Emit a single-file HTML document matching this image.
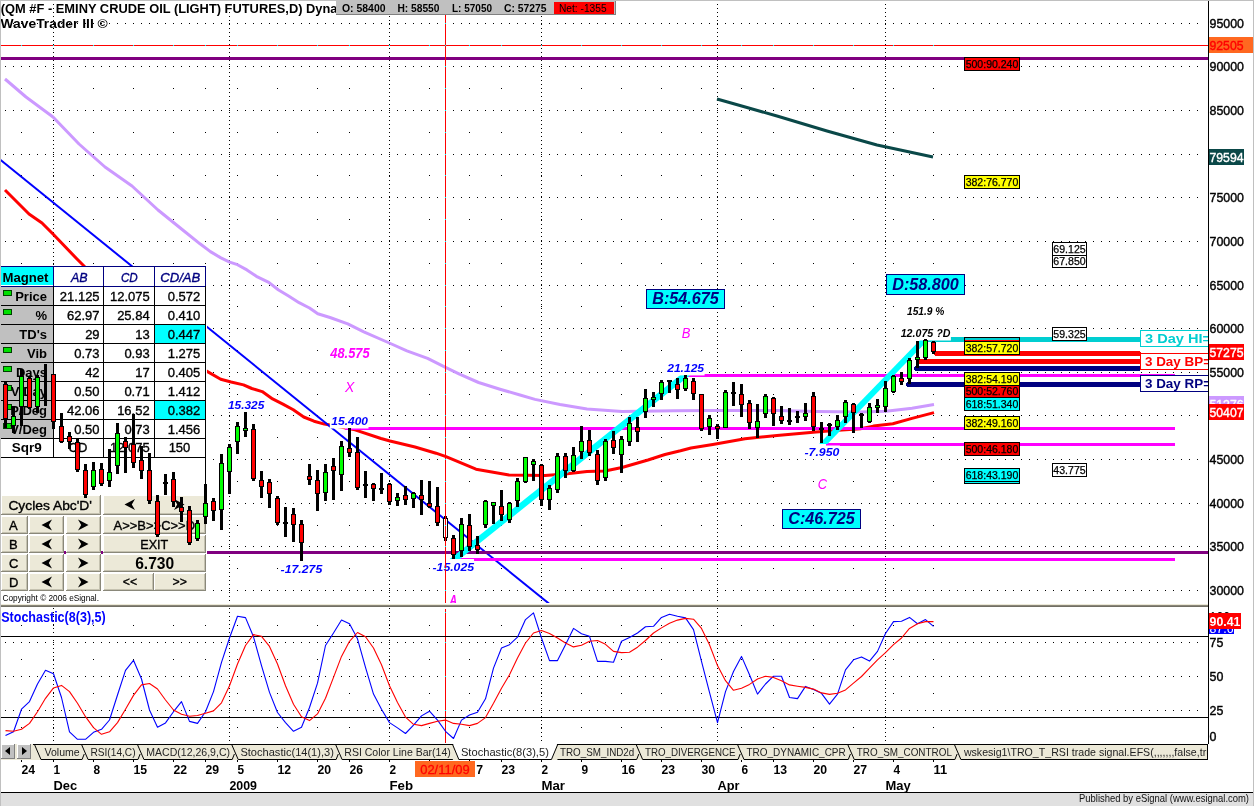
<!DOCTYPE html>
<html><head><meta charset="utf-8"><title>QM #F - EMINY CRUDE OIL (LIGHT) FUTURES, D</title>
<style>
html,body{margin:0;padding:0;background:#fff;}
svg{display:block;font-family:"Liberation Sans",Arial,sans-serif;}
</style></head><body>
<svg width="1254" height="806" viewBox="0 0 1254 806">
<rect x="0" y="0" width="1254" height="806" fill="#FFFFFF"/>
<g shape-rendering="crispEdges">
<line x1="5" x2="1200" y1="23.5" y2="23.5" stroke="#000" stroke-width="1" stroke-dasharray="1 7"/>
<line x1="5" x2="1200" y1="66.5" y2="66.5" stroke="#000" stroke-width="1" stroke-dasharray="1 7"/>
<line x1="5" x2="1200" y1="110.5" y2="110.5" stroke="#000" stroke-width="1" stroke-dasharray="1 7"/>
<line x1="5" x2="1200" y1="154.5" y2="154.5" stroke="#000" stroke-width="1" stroke-dasharray="1 7"/>
<line x1="5" x2="1200" y1="197.5" y2="197.5" stroke="#000" stroke-width="1" stroke-dasharray="1 7"/>
<line x1="5" x2="1200" y1="241.5" y2="241.5" stroke="#000" stroke-width="1" stroke-dasharray="1 7"/>
<line x1="5" x2="1200" y1="285.5" y2="285.5" stroke="#000" stroke-width="1" stroke-dasharray="1 7"/>
<line x1="5" x2="1200" y1="328.5" y2="328.5" stroke="#000" stroke-width="1" stroke-dasharray="1 7"/>
<line x1="5" x2="1200" y1="372.5" y2="372.5" stroke="#000" stroke-width="1" stroke-dasharray="1 7"/>
<line x1="5" x2="1200" y1="415.5" y2="415.5" stroke="#000" stroke-width="1" stroke-dasharray="1 7"/>
<line x1="5" x2="1200" y1="459.5" y2="459.5" stroke="#000" stroke-width="1" stroke-dasharray="1 7"/>
<line x1="5" x2="1200" y1="503.5" y2="503.5" stroke="#000" stroke-width="1" stroke-dasharray="1 7"/>
<line x1="5" x2="1200" y1="546.5" y2="546.5" stroke="#000" stroke-width="1" stroke-dasharray="1 7"/>
<line x1="5" x2="1200" y1="590.5" y2="590.5" stroke="#000" stroke-width="1" stroke-dasharray="1 7"/>
<rect x="21" y="45" width="1" height="1" fill="#000" />
<rect x="53" y="45" width="1" height="1" fill="#000" />
<rect x="93" y="45" width="1" height="1" fill="#000" />
<rect x="133" y="45" width="1" height="1" fill="#000" />
<rect x="173" y="45" width="1" height="1" fill="#000" />
<rect x="205" y="45" width="1" height="1" fill="#000" />
<rect x="237" y="45" width="1" height="1" fill="#000" />
<rect x="277" y="45" width="1" height="1" fill="#000" />
<rect x="317" y="45" width="1" height="1" fill="#000" />
<rect x="349" y="45" width="1" height="1" fill="#000" />
<rect x="389" y="45" width="1" height="1" fill="#000" />
<rect x="429" y="45" width="1" height="1" fill="#000" />
<rect x="469" y="45" width="1" height="1" fill="#000" />
<rect x="501" y="45" width="1" height="1" fill="#000" />
<rect x="541" y="45" width="1" height="1" fill="#000" />
<rect x="581" y="45" width="1" height="1" fill="#000" />
<rect x="621" y="45" width="1" height="1" fill="#000" />
<rect x="661" y="45" width="1" height="1" fill="#000" />
<rect x="701" y="45" width="1" height="1" fill="#000" />
<rect x="741" y="45" width="1" height="1" fill="#000" />
<rect x="773" y="45" width="1" height="1" fill="#000" />
<rect x="813" y="45" width="1" height="1" fill="#000" />
<rect x="853" y="45" width="1" height="1" fill="#000" />
<rect x="893" y="45" width="1" height="1" fill="#000" />
<rect x="933" y="45" width="1" height="1" fill="#000" />
<rect x="21" y="88" width="1" height="1" fill="#000" />
<rect x="53" y="88" width="1" height="1" fill="#000" />
<rect x="93" y="88" width="1" height="1" fill="#000" />
<rect x="133" y="88" width="1" height="1" fill="#000" />
<rect x="173" y="88" width="1" height="1" fill="#000" />
<rect x="205" y="88" width="1" height="1" fill="#000" />
<rect x="237" y="88" width="1" height="1" fill="#000" />
<rect x="277" y="88" width="1" height="1" fill="#000" />
<rect x="317" y="88" width="1" height="1" fill="#000" />
<rect x="349" y="88" width="1" height="1" fill="#000" />
<rect x="389" y="88" width="1" height="1" fill="#000" />
<rect x="429" y="88" width="1" height="1" fill="#000" />
<rect x="469" y="88" width="1" height="1" fill="#000" />
<rect x="501" y="88" width="1" height="1" fill="#000" />
<rect x="541" y="88" width="1" height="1" fill="#000" />
<rect x="581" y="88" width="1" height="1" fill="#000" />
<rect x="621" y="88" width="1" height="1" fill="#000" />
<rect x="661" y="88" width="1" height="1" fill="#000" />
<rect x="701" y="88" width="1" height="1" fill="#000" />
<rect x="741" y="88" width="1" height="1" fill="#000" />
<rect x="773" y="88" width="1" height="1" fill="#000" />
<rect x="813" y="88" width="1" height="1" fill="#000" />
<rect x="853" y="88" width="1" height="1" fill="#000" />
<rect x="893" y="88" width="1" height="1" fill="#000" />
<rect x="933" y="88" width="1" height="1" fill="#000" />
<rect x="21" y="132" width="1" height="1" fill="#000" />
<rect x="53" y="132" width="1" height="1" fill="#000" />
<rect x="93" y="132" width="1" height="1" fill="#000" />
<rect x="133" y="132" width="1" height="1" fill="#000" />
<rect x="173" y="132" width="1" height="1" fill="#000" />
<rect x="205" y="132" width="1" height="1" fill="#000" />
<rect x="237" y="132" width="1" height="1" fill="#000" />
<rect x="277" y="132" width="1" height="1" fill="#000" />
<rect x="317" y="132" width="1" height="1" fill="#000" />
<rect x="349" y="132" width="1" height="1" fill="#000" />
<rect x="389" y="132" width="1" height="1" fill="#000" />
<rect x="429" y="132" width="1" height="1" fill="#000" />
<rect x="469" y="132" width="1" height="1" fill="#000" />
<rect x="501" y="132" width="1" height="1" fill="#000" />
<rect x="541" y="132" width="1" height="1" fill="#000" />
<rect x="581" y="132" width="1" height="1" fill="#000" />
<rect x="621" y="132" width="1" height="1" fill="#000" />
<rect x="661" y="132" width="1" height="1" fill="#000" />
<rect x="701" y="132" width="1" height="1" fill="#000" />
<rect x="741" y="132" width="1" height="1" fill="#000" />
<rect x="773" y="132" width="1" height="1" fill="#000" />
<rect x="813" y="132" width="1" height="1" fill="#000" />
<rect x="853" y="132" width="1" height="1" fill="#000" />
<rect x="893" y="132" width="1" height="1" fill="#000" />
<rect x="933" y="132" width="1" height="1" fill="#000" />
<rect x="21" y="175" width="1" height="1" fill="#000" />
<rect x="53" y="175" width="1" height="1" fill="#000" />
<rect x="93" y="175" width="1" height="1" fill="#000" />
<rect x="133" y="175" width="1" height="1" fill="#000" />
<rect x="173" y="175" width="1" height="1" fill="#000" />
<rect x="205" y="175" width="1" height="1" fill="#000" />
<rect x="237" y="175" width="1" height="1" fill="#000" />
<rect x="277" y="175" width="1" height="1" fill="#000" />
<rect x="317" y="175" width="1" height="1" fill="#000" />
<rect x="349" y="175" width="1" height="1" fill="#000" />
<rect x="389" y="175" width="1" height="1" fill="#000" />
<rect x="429" y="175" width="1" height="1" fill="#000" />
<rect x="469" y="175" width="1" height="1" fill="#000" />
<rect x="501" y="175" width="1" height="1" fill="#000" />
<rect x="541" y="175" width="1" height="1" fill="#000" />
<rect x="581" y="175" width="1" height="1" fill="#000" />
<rect x="621" y="175" width="1" height="1" fill="#000" />
<rect x="661" y="175" width="1" height="1" fill="#000" />
<rect x="701" y="175" width="1" height="1" fill="#000" />
<rect x="741" y="175" width="1" height="1" fill="#000" />
<rect x="773" y="175" width="1" height="1" fill="#000" />
<rect x="813" y="175" width="1" height="1" fill="#000" />
<rect x="853" y="175" width="1" height="1" fill="#000" />
<rect x="893" y="175" width="1" height="1" fill="#000" />
<rect x="933" y="175" width="1" height="1" fill="#000" />
<rect x="21" y="219" width="1" height="1" fill="#000" />
<rect x="53" y="219" width="1" height="1" fill="#000" />
<rect x="93" y="219" width="1" height="1" fill="#000" />
<rect x="133" y="219" width="1" height="1" fill="#000" />
<rect x="173" y="219" width="1" height="1" fill="#000" />
<rect x="205" y="219" width="1" height="1" fill="#000" />
<rect x="237" y="219" width="1" height="1" fill="#000" />
<rect x="277" y="219" width="1" height="1" fill="#000" />
<rect x="317" y="219" width="1" height="1" fill="#000" />
<rect x="349" y="219" width="1" height="1" fill="#000" />
<rect x="389" y="219" width="1" height="1" fill="#000" />
<rect x="429" y="219" width="1" height="1" fill="#000" />
<rect x="469" y="219" width="1" height="1" fill="#000" />
<rect x="501" y="219" width="1" height="1" fill="#000" />
<rect x="541" y="219" width="1" height="1" fill="#000" />
<rect x="581" y="219" width="1" height="1" fill="#000" />
<rect x="621" y="219" width="1" height="1" fill="#000" />
<rect x="661" y="219" width="1" height="1" fill="#000" />
<rect x="701" y="219" width="1" height="1" fill="#000" />
<rect x="741" y="219" width="1" height="1" fill="#000" />
<rect x="773" y="219" width="1" height="1" fill="#000" />
<rect x="813" y="219" width="1" height="1" fill="#000" />
<rect x="853" y="219" width="1" height="1" fill="#000" />
<rect x="893" y="219" width="1" height="1" fill="#000" />
<rect x="933" y="219" width="1" height="1" fill="#000" />
<rect x="21" y="263" width="1" height="1" fill="#000" />
<rect x="53" y="263" width="1" height="1" fill="#000" />
<rect x="93" y="263" width="1" height="1" fill="#000" />
<rect x="133" y="263" width="1" height="1" fill="#000" />
<rect x="173" y="263" width="1" height="1" fill="#000" />
<rect x="205" y="263" width="1" height="1" fill="#000" />
<rect x="237" y="263" width="1" height="1" fill="#000" />
<rect x="277" y="263" width="1" height="1" fill="#000" />
<rect x="317" y="263" width="1" height="1" fill="#000" />
<rect x="349" y="263" width="1" height="1" fill="#000" />
<rect x="389" y="263" width="1" height="1" fill="#000" />
<rect x="429" y="263" width="1" height="1" fill="#000" />
<rect x="469" y="263" width="1" height="1" fill="#000" />
<rect x="501" y="263" width="1" height="1" fill="#000" />
<rect x="541" y="263" width="1" height="1" fill="#000" />
<rect x="581" y="263" width="1" height="1" fill="#000" />
<rect x="621" y="263" width="1" height="1" fill="#000" />
<rect x="661" y="263" width="1" height="1" fill="#000" />
<rect x="701" y="263" width="1" height="1" fill="#000" />
<rect x="741" y="263" width="1" height="1" fill="#000" />
<rect x="773" y="263" width="1" height="1" fill="#000" />
<rect x="813" y="263" width="1" height="1" fill="#000" />
<rect x="853" y="263" width="1" height="1" fill="#000" />
<rect x="893" y="263" width="1" height="1" fill="#000" />
<rect x="933" y="263" width="1" height="1" fill="#000" />
<rect x="21" y="306" width="1" height="1" fill="#000" />
<rect x="53" y="306" width="1" height="1" fill="#000" />
<rect x="93" y="306" width="1" height="1" fill="#000" />
<rect x="133" y="306" width="1" height="1" fill="#000" />
<rect x="173" y="306" width="1" height="1" fill="#000" />
<rect x="205" y="306" width="1" height="1" fill="#000" />
<rect x="237" y="306" width="1" height="1" fill="#000" />
<rect x="277" y="306" width="1" height="1" fill="#000" />
<rect x="317" y="306" width="1" height="1" fill="#000" />
<rect x="349" y="306" width="1" height="1" fill="#000" />
<rect x="389" y="306" width="1" height="1" fill="#000" />
<rect x="429" y="306" width="1" height="1" fill="#000" />
<rect x="469" y="306" width="1" height="1" fill="#000" />
<rect x="501" y="306" width="1" height="1" fill="#000" />
<rect x="541" y="306" width="1" height="1" fill="#000" />
<rect x="581" y="306" width="1" height="1" fill="#000" />
<rect x="621" y="306" width="1" height="1" fill="#000" />
<rect x="661" y="306" width="1" height="1" fill="#000" />
<rect x="701" y="306" width="1" height="1" fill="#000" />
<rect x="741" y="306" width="1" height="1" fill="#000" />
<rect x="773" y="306" width="1" height="1" fill="#000" />
<rect x="813" y="306" width="1" height="1" fill="#000" />
<rect x="853" y="306" width="1" height="1" fill="#000" />
<rect x="893" y="306" width="1" height="1" fill="#000" />
<rect x="933" y="306" width="1" height="1" fill="#000" />
<rect x="21" y="350" width="1" height="1" fill="#000" />
<rect x="53" y="350" width="1" height="1" fill="#000" />
<rect x="93" y="350" width="1" height="1" fill="#000" />
<rect x="133" y="350" width="1" height="1" fill="#000" />
<rect x="173" y="350" width="1" height="1" fill="#000" />
<rect x="205" y="350" width="1" height="1" fill="#000" />
<rect x="237" y="350" width="1" height="1" fill="#000" />
<rect x="277" y="350" width="1" height="1" fill="#000" />
<rect x="317" y="350" width="1" height="1" fill="#000" />
<rect x="349" y="350" width="1" height="1" fill="#000" />
<rect x="389" y="350" width="1" height="1" fill="#000" />
<rect x="429" y="350" width="1" height="1" fill="#000" />
<rect x="469" y="350" width="1" height="1" fill="#000" />
<rect x="501" y="350" width="1" height="1" fill="#000" />
<rect x="541" y="350" width="1" height="1" fill="#000" />
<rect x="581" y="350" width="1" height="1" fill="#000" />
<rect x="621" y="350" width="1" height="1" fill="#000" />
<rect x="661" y="350" width="1" height="1" fill="#000" />
<rect x="701" y="350" width="1" height="1" fill="#000" />
<rect x="741" y="350" width="1" height="1" fill="#000" />
<rect x="773" y="350" width="1" height="1" fill="#000" />
<rect x="813" y="350" width="1" height="1" fill="#000" />
<rect x="853" y="350" width="1" height="1" fill="#000" />
<rect x="893" y="350" width="1" height="1" fill="#000" />
<rect x="933" y="350" width="1" height="1" fill="#000" />
<rect x="21" y="394" width="1" height="1" fill="#000" />
<rect x="53" y="394" width="1" height="1" fill="#000" />
<rect x="93" y="394" width="1" height="1" fill="#000" />
<rect x="133" y="394" width="1" height="1" fill="#000" />
<rect x="173" y="394" width="1" height="1" fill="#000" />
<rect x="205" y="394" width="1" height="1" fill="#000" />
<rect x="237" y="394" width="1" height="1" fill="#000" />
<rect x="277" y="394" width="1" height="1" fill="#000" />
<rect x="317" y="394" width="1" height="1" fill="#000" />
<rect x="349" y="394" width="1" height="1" fill="#000" />
<rect x="389" y="394" width="1" height="1" fill="#000" />
<rect x="429" y="394" width="1" height="1" fill="#000" />
<rect x="469" y="394" width="1" height="1" fill="#000" />
<rect x="501" y="394" width="1" height="1" fill="#000" />
<rect x="541" y="394" width="1" height="1" fill="#000" />
<rect x="581" y="394" width="1" height="1" fill="#000" />
<rect x="621" y="394" width="1" height="1" fill="#000" />
<rect x="661" y="394" width="1" height="1" fill="#000" />
<rect x="701" y="394" width="1" height="1" fill="#000" />
<rect x="741" y="394" width="1" height="1" fill="#000" />
<rect x="773" y="394" width="1" height="1" fill="#000" />
<rect x="813" y="394" width="1" height="1" fill="#000" />
<rect x="853" y="394" width="1" height="1" fill="#000" />
<rect x="893" y="394" width="1" height="1" fill="#000" />
<rect x="933" y="394" width="1" height="1" fill="#000" />
<rect x="21" y="437" width="1" height="1" fill="#000" />
<rect x="53" y="437" width="1" height="1" fill="#000" />
<rect x="93" y="437" width="1" height="1" fill="#000" />
<rect x="133" y="437" width="1" height="1" fill="#000" />
<rect x="173" y="437" width="1" height="1" fill="#000" />
<rect x="205" y="437" width="1" height="1" fill="#000" />
<rect x="237" y="437" width="1" height="1" fill="#000" />
<rect x="277" y="437" width="1" height="1" fill="#000" />
<rect x="317" y="437" width="1" height="1" fill="#000" />
<rect x="349" y="437" width="1" height="1" fill="#000" />
<rect x="389" y="437" width="1" height="1" fill="#000" />
<rect x="429" y="437" width="1" height="1" fill="#000" />
<rect x="469" y="437" width="1" height="1" fill="#000" />
<rect x="501" y="437" width="1" height="1" fill="#000" />
<rect x="541" y="437" width="1" height="1" fill="#000" />
<rect x="581" y="437" width="1" height="1" fill="#000" />
<rect x="621" y="437" width="1" height="1" fill="#000" />
<rect x="661" y="437" width="1" height="1" fill="#000" />
<rect x="701" y="437" width="1" height="1" fill="#000" />
<rect x="741" y="437" width="1" height="1" fill="#000" />
<rect x="773" y="437" width="1" height="1" fill="#000" />
<rect x="813" y="437" width="1" height="1" fill="#000" />
<rect x="853" y="437" width="1" height="1" fill="#000" />
<rect x="893" y="437" width="1" height="1" fill="#000" />
<rect x="933" y="437" width="1" height="1" fill="#000" />
<rect x="21" y="481" width="1" height="1" fill="#000" />
<rect x="53" y="481" width="1" height="1" fill="#000" />
<rect x="93" y="481" width="1" height="1" fill="#000" />
<rect x="133" y="481" width="1" height="1" fill="#000" />
<rect x="173" y="481" width="1" height="1" fill="#000" />
<rect x="205" y="481" width="1" height="1" fill="#000" />
<rect x="237" y="481" width="1" height="1" fill="#000" />
<rect x="277" y="481" width="1" height="1" fill="#000" />
<rect x="317" y="481" width="1" height="1" fill="#000" />
<rect x="349" y="481" width="1" height="1" fill="#000" />
<rect x="389" y="481" width="1" height="1" fill="#000" />
<rect x="429" y="481" width="1" height="1" fill="#000" />
<rect x="469" y="481" width="1" height="1" fill="#000" />
<rect x="501" y="481" width="1" height="1" fill="#000" />
<rect x="541" y="481" width="1" height="1" fill="#000" />
<rect x="581" y="481" width="1" height="1" fill="#000" />
<rect x="621" y="481" width="1" height="1" fill="#000" />
<rect x="661" y="481" width="1" height="1" fill="#000" />
<rect x="701" y="481" width="1" height="1" fill="#000" />
<rect x="741" y="481" width="1" height="1" fill="#000" />
<rect x="773" y="481" width="1" height="1" fill="#000" />
<rect x="813" y="481" width="1" height="1" fill="#000" />
<rect x="853" y="481" width="1" height="1" fill="#000" />
<rect x="893" y="481" width="1" height="1" fill="#000" />
<rect x="933" y="481" width="1" height="1" fill="#000" />
<rect x="21" y="525" width="1" height="1" fill="#000" />
<rect x="53" y="525" width="1" height="1" fill="#000" />
<rect x="93" y="525" width="1" height="1" fill="#000" />
<rect x="133" y="525" width="1" height="1" fill="#000" />
<rect x="173" y="525" width="1" height="1" fill="#000" />
<rect x="205" y="525" width="1" height="1" fill="#000" />
<rect x="237" y="525" width="1" height="1" fill="#000" />
<rect x="277" y="525" width="1" height="1" fill="#000" />
<rect x="317" y="525" width="1" height="1" fill="#000" />
<rect x="349" y="525" width="1" height="1" fill="#000" />
<rect x="389" y="525" width="1" height="1" fill="#000" />
<rect x="429" y="525" width="1" height="1" fill="#000" />
<rect x="469" y="525" width="1" height="1" fill="#000" />
<rect x="501" y="525" width="1" height="1" fill="#000" />
<rect x="541" y="525" width="1" height="1" fill="#000" />
<rect x="581" y="525" width="1" height="1" fill="#000" />
<rect x="621" y="525" width="1" height="1" fill="#000" />
<rect x="661" y="525" width="1" height="1" fill="#000" />
<rect x="701" y="525" width="1" height="1" fill="#000" />
<rect x="741" y="525" width="1" height="1" fill="#000" />
<rect x="773" y="525" width="1" height="1" fill="#000" />
<rect x="813" y="525" width="1" height="1" fill="#000" />
<rect x="853" y="525" width="1" height="1" fill="#000" />
<rect x="893" y="525" width="1" height="1" fill="#000" />
<rect x="933" y="525" width="1" height="1" fill="#000" />
<rect x="21" y="568" width="1" height="1" fill="#000" />
<rect x="53" y="568" width="1" height="1" fill="#000" />
<rect x="93" y="568" width="1" height="1" fill="#000" />
<rect x="133" y="568" width="1" height="1" fill="#000" />
<rect x="173" y="568" width="1" height="1" fill="#000" />
<rect x="205" y="568" width="1" height="1" fill="#000" />
<rect x="237" y="568" width="1" height="1" fill="#000" />
<rect x="277" y="568" width="1" height="1" fill="#000" />
<rect x="317" y="568" width="1" height="1" fill="#000" />
<rect x="349" y="568" width="1" height="1" fill="#000" />
<rect x="389" y="568" width="1" height="1" fill="#000" />
<rect x="429" y="568" width="1" height="1" fill="#000" />
<rect x="469" y="568" width="1" height="1" fill="#000" />
<rect x="501" y="568" width="1" height="1" fill="#000" />
<rect x="541" y="568" width="1" height="1" fill="#000" />
<rect x="581" y="568" width="1" height="1" fill="#000" />
<rect x="621" y="568" width="1" height="1" fill="#000" />
<rect x="661" y="568" width="1" height="1" fill="#000" />
<rect x="701" y="568" width="1" height="1" fill="#000" />
<rect x="741" y="568" width="1" height="1" fill="#000" />
<rect x="773" y="568" width="1" height="1" fill="#000" />
<rect x="813" y="568" width="1" height="1" fill="#000" />
<rect x="853" y="568" width="1" height="1" fill="#000" />
<rect x="893" y="568" width="1" height="1" fill="#000" />
<rect x="933" y="568" width="1" height="1" fill="#000" />
<line x1="53.5" x2="53.5" y1="0" y2="603" stroke="#000" stroke-width="1" stroke-dasharray="1 3"/>
<line x1="53.5" x2="53.5" y1="608" y2="743" stroke="#000" stroke-width="1" stroke-dasharray="1 3"/>
<line x1="229.5" x2="229.5" y1="0" y2="603" stroke="#000" stroke-width="1" stroke-dasharray="1 3"/>
<line x1="229.5" x2="229.5" y1="608" y2="743" stroke="#000" stroke-width="1" stroke-dasharray="1 3"/>
<line x1="389.5" x2="389.5" y1="0" y2="603" stroke="#000" stroke-width="1" stroke-dasharray="1 3"/>
<line x1="389.5" x2="389.5" y1="608" y2="743" stroke="#000" stroke-width="1" stroke-dasharray="1 3"/>
<line x1="541.5" x2="541.5" y1="0" y2="603" stroke="#000" stroke-width="1" stroke-dasharray="1 3"/>
<line x1="541.5" x2="541.5" y1="608" y2="743" stroke="#000" stroke-width="1" stroke-dasharray="1 3"/>
<line x1="717.5" x2="717.5" y1="0" y2="603" stroke="#000" stroke-width="1" stroke-dasharray="1 3"/>
<line x1="717.5" x2="717.5" y1="608" y2="743" stroke="#000" stroke-width="1" stroke-dasharray="1 3"/>
<line x1="885.5" x2="885.5" y1="0" y2="603" stroke="#000" stroke-width="1" stroke-dasharray="1 3"/>
<line x1="885.5" x2="885.5" y1="608" y2="743" stroke="#000" stroke-width="1" stroke-dasharray="1 3"/>
<line x1="5" x2="1200" y1="642.5" y2="642.5" stroke="#000" stroke-width="1" stroke-dasharray="1 7"/>
<line x1="5" x2="1200" y1="676.5" y2="676.5" stroke="#000" stroke-width="1" stroke-dasharray="1 7"/>
<line x1="5" x2="1200" y1="710.5" y2="710.5" stroke="#000" stroke-width="1" stroke-dasharray="1 7"/>
<rect x="21" y="625" width="1" height="1" fill="#000" />
<rect x="53" y="625" width="1" height="1" fill="#000" />
<rect x="93" y="625" width="1" height="1" fill="#000" />
<rect x="133" y="625" width="1" height="1" fill="#000" />
<rect x="173" y="625" width="1" height="1" fill="#000" />
<rect x="205" y="625" width="1" height="1" fill="#000" />
<rect x="237" y="625" width="1" height="1" fill="#000" />
<rect x="277" y="625" width="1" height="1" fill="#000" />
<rect x="317" y="625" width="1" height="1" fill="#000" />
<rect x="349" y="625" width="1" height="1" fill="#000" />
<rect x="389" y="625" width="1" height="1" fill="#000" />
<rect x="429" y="625" width="1" height="1" fill="#000" />
<rect x="469" y="625" width="1" height="1" fill="#000" />
<rect x="501" y="625" width="1" height="1" fill="#000" />
<rect x="541" y="625" width="1" height="1" fill="#000" />
<rect x="581" y="625" width="1" height="1" fill="#000" />
<rect x="621" y="625" width="1" height="1" fill="#000" />
<rect x="661" y="625" width="1" height="1" fill="#000" />
<rect x="701" y="625" width="1" height="1" fill="#000" />
<rect x="741" y="625" width="1" height="1" fill="#000" />
<rect x="773" y="625" width="1" height="1" fill="#000" />
<rect x="813" y="625" width="1" height="1" fill="#000" />
<rect x="853" y="625" width="1" height="1" fill="#000" />
<rect x="893" y="625" width="1" height="1" fill="#000" />
<rect x="933" y="625" width="1" height="1" fill="#000" />
<rect x="21" y="659" width="1" height="1" fill="#000" />
<rect x="53" y="659" width="1" height="1" fill="#000" />
<rect x="93" y="659" width="1" height="1" fill="#000" />
<rect x="133" y="659" width="1" height="1" fill="#000" />
<rect x="173" y="659" width="1" height="1" fill="#000" />
<rect x="205" y="659" width="1" height="1" fill="#000" />
<rect x="237" y="659" width="1" height="1" fill="#000" />
<rect x="277" y="659" width="1" height="1" fill="#000" />
<rect x="317" y="659" width="1" height="1" fill="#000" />
<rect x="349" y="659" width="1" height="1" fill="#000" />
<rect x="389" y="659" width="1" height="1" fill="#000" />
<rect x="429" y="659" width="1" height="1" fill="#000" />
<rect x="469" y="659" width="1" height="1" fill="#000" />
<rect x="501" y="659" width="1" height="1" fill="#000" />
<rect x="541" y="659" width="1" height="1" fill="#000" />
<rect x="581" y="659" width="1" height="1" fill="#000" />
<rect x="621" y="659" width="1" height="1" fill="#000" />
<rect x="661" y="659" width="1" height="1" fill="#000" />
<rect x="701" y="659" width="1" height="1" fill="#000" />
<rect x="741" y="659" width="1" height="1" fill="#000" />
<rect x="773" y="659" width="1" height="1" fill="#000" />
<rect x="813" y="659" width="1" height="1" fill="#000" />
<rect x="853" y="659" width="1" height="1" fill="#000" />
<rect x="893" y="659" width="1" height="1" fill="#000" />
<rect x="933" y="659" width="1" height="1" fill="#000" />
<rect x="21" y="693" width="1" height="1" fill="#000" />
<rect x="53" y="693" width="1" height="1" fill="#000" />
<rect x="93" y="693" width="1" height="1" fill="#000" />
<rect x="133" y="693" width="1" height="1" fill="#000" />
<rect x="173" y="693" width="1" height="1" fill="#000" />
<rect x="205" y="693" width="1" height="1" fill="#000" />
<rect x="237" y="693" width="1" height="1" fill="#000" />
<rect x="277" y="693" width="1" height="1" fill="#000" />
<rect x="317" y="693" width="1" height="1" fill="#000" />
<rect x="349" y="693" width="1" height="1" fill="#000" />
<rect x="389" y="693" width="1" height="1" fill="#000" />
<rect x="429" y="693" width="1" height="1" fill="#000" />
<rect x="469" y="693" width="1" height="1" fill="#000" />
<rect x="501" y="693" width="1" height="1" fill="#000" />
<rect x="541" y="693" width="1" height="1" fill="#000" />
<rect x="581" y="693" width="1" height="1" fill="#000" />
<rect x="621" y="693" width="1" height="1" fill="#000" />
<rect x="661" y="693" width="1" height="1" fill="#000" />
<rect x="701" y="693" width="1" height="1" fill="#000" />
<rect x="741" y="693" width="1" height="1" fill="#000" />
<rect x="773" y="693" width="1" height="1" fill="#000" />
<rect x="813" y="693" width="1" height="1" fill="#000" />
<rect x="853" y="693" width="1" height="1" fill="#000" />
<rect x="893" y="693" width="1" height="1" fill="#000" />
<rect x="933" y="693" width="1" height="1" fill="#000" />
<rect x="21" y="727" width="1" height="1" fill="#000" />
<rect x="53" y="727" width="1" height="1" fill="#000" />
<rect x="93" y="727" width="1" height="1" fill="#000" />
<rect x="133" y="727" width="1" height="1" fill="#000" />
<rect x="173" y="727" width="1" height="1" fill="#000" />
<rect x="205" y="727" width="1" height="1" fill="#000" />
<rect x="237" y="727" width="1" height="1" fill="#000" />
<rect x="277" y="727" width="1" height="1" fill="#000" />
<rect x="317" y="727" width="1" height="1" fill="#000" />
<rect x="349" y="727" width="1" height="1" fill="#000" />
<rect x="389" y="727" width="1" height="1" fill="#000" />
<rect x="429" y="727" width="1" height="1" fill="#000" />
<rect x="469" y="727" width="1" height="1" fill="#000" />
<rect x="501" y="727" width="1" height="1" fill="#000" />
<rect x="541" y="727" width="1" height="1" fill="#000" />
<rect x="581" y="727" width="1" height="1" fill="#000" />
<rect x="621" y="727" width="1" height="1" fill="#000" />
<rect x="661" y="727" width="1" height="1" fill="#000" />
<rect x="701" y="727" width="1" height="1" fill="#000" />
<rect x="741" y="727" width="1" height="1" fill="#000" />
<rect x="773" y="727" width="1" height="1" fill="#000" />
<rect x="813" y="727" width="1" height="1" fill="#000" />
<rect x="853" y="727" width="1" height="1" fill="#000" />
<rect x="893" y="727" width="1" height="1" fill="#000" />
<rect x="933" y="727" width="1" height="1" fill="#000" />
</g>
<polyline points="5.0,79.0 26.0,97.0 53.0,117.0 79.0,144.0 105.0,167.0 132.0,186.0 158.0,210.0 184.0,231.0 200.0,243.8 210.4,251.6 220.9,257.9 229.7,262.1 237.5,264.7 246.9,269.9 257.4,276.9 268.8,282.4 278.2,289.7 288.6,296.0 299.1,302.7 309.5,308.0 317.8,313.8 330.0,317.5 347.8,323.8 363.8,331.8 389.3,343.0 406.9,350.9 427.6,358.3 445.5,367.4 459.5,374.2 478.6,382.5 500.0,389.2 520.0,395.0 535.0,399.4 560.0,404.5 587.0,409.0 622.0,411.5 674.0,410.8 717.0,410.5 777.0,410.5 816.0,411.5 860.0,411.9 886.0,411.2 912.0,408.2 934.0,404.6" fill="none" stroke="#CC99FF" stroke-width="3" stroke-linejoin="round" />
<polyline points="5.0,190.0 29.0,214.0 42.0,223.0 53.0,234.0 76.0,258.0 84.0,266.0 110.0,290.0 150.0,325.0 205.0,370.0 206.2,370.9 220.7,379.2 231.1,382.0 243.5,384.9 251.8,388.5 262.2,391.6 272.6,398.9 282.9,404.1 293.3,409.8 303.7,417.0 314.0,421.2 324.4,424.1 330.0,425.1 355.0,429.8 381.0,438.5 390.0,441.0 415.0,447.0 436.0,453.2 446.0,456.7 476.0,469.2 509.0,475.1 545.0,475.6 565.0,474.0 587.0,471.5 605.0,471.0 622.0,467.5 648.0,460.0 665.0,454.5 680.5,450.8 691.0,448.0 712.8,444.4 745.0,438.7 777.0,435.5 816.0,431.9 834.7,430.6 860.5,428.7 873.4,426.1 892.8,423.8 912.0,418.4 934.0,412.6" fill="none" stroke="#FF0000" stroke-width="3" stroke-linejoin="round" />
<clipPath id="cm"><rect x="0" y="0" width="1208" height="603"/></clipPath>
<line x1="0" y1="159.5" x2="560" y2="612.5" stroke="#0000FF" stroke-width="2" clip-path="url(#cm)"/>
<polyline points="717.0,99.0 747.0,107.5 777.0,116.0 827.0,131.0 877.0,145.0 933.0,157.0" fill="none" stroke="#0A4848" stroke-width="3" stroke-linejoin="round" />
<g shape-rendering="crispEdges">
<rect x="0" y="45" width="1208" height="1" fill="#FF0000" />
<rect x="21" y="45" width="1" height="1" fill="#00FFFF" />
<rect x="53" y="45" width="1" height="1" fill="#00FFFF" />
<rect x="93" y="45" width="1" height="1" fill="#00FFFF" />
<rect x="133" y="45" width="1" height="1" fill="#00FFFF" />
<rect x="173" y="45" width="1" height="1" fill="#00FFFF" />
<rect x="205" y="45" width="1" height="1" fill="#00FFFF" />
<rect x="237" y="45" width="1" height="1" fill="#00FFFF" />
<rect x="277" y="45" width="1" height="1" fill="#00FFFF" />
<rect x="317" y="45" width="1" height="1" fill="#00FFFF" />
<rect x="349" y="45" width="1" height="1" fill="#00FFFF" />
<rect x="389" y="45" width="1" height="1" fill="#00FFFF" />
<rect x="429" y="45" width="1" height="1" fill="#00FFFF" />
<rect x="469" y="45" width="1" height="1" fill="#00FFFF" />
<rect x="501" y="45" width="1" height="1" fill="#00FFFF" />
<rect x="541" y="45" width="1" height="1" fill="#00FFFF" />
<rect x="581" y="45" width="1" height="1" fill="#00FFFF" />
<rect x="621" y="45" width="1" height="1" fill="#00FFFF" />
<rect x="661" y="45" width="1" height="1" fill="#00FFFF" />
<rect x="701" y="45" width="1" height="1" fill="#00FFFF" />
<rect x="741" y="45" width="1" height="1" fill="#00FFFF" />
<rect x="773" y="45" width="1" height="1" fill="#00FFFF" />
<rect x="813" y="45" width="1" height="1" fill="#00FFFF" />
<rect x="853" y="45" width="1" height="1" fill="#00FFFF" />
<rect x="893" y="45" width="1" height="1" fill="#00FFFF" />
<rect x="933" y="45" width="1" height="1" fill="#00FFFF" />
<rect x="0" y="57" width="1208" height="3" fill="#800080" />
<rect x="0" y="551" width="1208" height="3" fill="#800080" />
<rect x="345" y="427" width="830" height="3" fill="#FF00FF" />
<rect x="688" y="374" width="487" height="3" fill="#FF00FF" />
<rect x="826" y="443" width="349" height="3" fill="#FF00FF" />
<rect x="459" y="558" width="716" height="3" fill="#FF00FF" />
</g>
<polygon points="449.8,559 460,559 690.5,375 680.3,375" fill="#00FFFF"/>
<polygon points="819.2,444 827.4,444 929.7,338.5 921.5,338.5" fill="#00FFFF"/>
<g shape-rendering="crispEdges">
<rect x="926" y="337" width="215" height="5" fill="#00CED1" />
<rect x="934" y="351" width="207" height="5" fill="#FF0000" rx="2.5"/>
<rect x="917" y="359" width="224" height="5" fill="#FF0000" rx="2.5"/>
<rect x="914" y="366" width="227" height="5" fill="#000080" rx="2.5"/>
<rect x="906" y="382" width="235" height="5" fill="#000080" rx="2.5"/>
</g>
<g shape-rendering="crispEdges">
<rect x="964.5" y="57.5" width="55" height="13" fill="#FF0000" stroke="#000" stroke-width="1" />
</g>
<text x="992.0" y="68" font-size="11" fill="#000" text-anchor="middle" textLength="52.7" lengthAdjust="spacingAndGlyphs" stroke="#000" stroke-width="0.25" >500:90.240</text>
<g shape-rendering="crispEdges">
<rect x="964.5" y="175.5" width="55" height="13" fill="#FFFF00" stroke="#000" stroke-width="1" />
</g>
<text x="992.0" y="186" font-size="11" fill="#000" text-anchor="middle" textLength="52.7" lengthAdjust="spacingAndGlyphs" stroke="#000" stroke-width="0.25" >382:76.770</text>
<g shape-rendering="crispEdges">
<rect x="964.5" y="337.5" width="55" height="17" fill="#FFFF00" stroke="#000" stroke-width="1" />
</g>
<text x="992.0" y="352" font-size="11" fill="#000" text-anchor="middle" textLength="52.7" lengthAdjust="spacingAndGlyphs" stroke="#000" stroke-width="0.25" >382:57.720</text>
<g shape-rendering="crispEdges">
<rect x="965" y="338" width="54" height="2" fill="#00CED1" />
<rect x="965" y="340" width="54" height="1" fill="#FF0000" />
<rect x="965" y="341" width="54" height="1" fill="#000" />
</g>
<g shape-rendering="crispEdges">
<rect x="964.5" y="372.5" width="55" height="13" fill="#FFFF00" stroke="#000" stroke-width="1" />
</g>
<text x="992.0" y="383" font-size="11" fill="#000" text-anchor="middle" textLength="52.7" lengthAdjust="spacingAndGlyphs" stroke="#000" stroke-width="0.25" >382:54.190</text>
<g shape-rendering="crispEdges">
<rect x="964.5" y="385.5" width="55" height="12" fill="#FF0000" stroke="#000" stroke-width="1" />
</g>
<text x="992.0" y="395" font-size="11" fill="#000" text-anchor="middle" textLength="52.7" lengthAdjust="spacingAndGlyphs" stroke="#000" stroke-width="0.25" >500:52.760</text>
<g shape-rendering="crispEdges">
<rect x="964.5" y="397.5" width="55" height="13" fill="#00FFFF" stroke="#000" stroke-width="1" />
</g>
<text x="992.0" y="408" font-size="11" fill="#000" text-anchor="middle" textLength="52.7" lengthAdjust="spacingAndGlyphs" stroke="#000" stroke-width="0.25" >618:51.340</text>
<g shape-rendering="crispEdges">
<rect x="964.5" y="416.5" width="55" height="13" fill="#FFFF00" stroke="#000" stroke-width="1" />
</g>
<text x="992.0" y="427" font-size="11" fill="#000" text-anchor="middle" textLength="52.7" lengthAdjust="spacingAndGlyphs" stroke="#000" stroke-width="0.25" >382:49.160</text>
<g shape-rendering="crispEdges">
<rect x="964.5" y="442.5" width="55" height="13" fill="#FF0000" stroke="#000" stroke-width="1" />
</g>
<text x="992.0" y="453" font-size="11" fill="#000" text-anchor="middle" textLength="52.7" lengthAdjust="spacingAndGlyphs" stroke="#000" stroke-width="0.25" >500:46.180</text>
<g shape-rendering="crispEdges">
<rect x="964.5" y="468.5" width="55" height="15" fill="#00FFFF" stroke="#000" stroke-width="1" />
</g>
<text x="992.0" y="479" font-size="11" fill="#000" text-anchor="middle" textLength="52.7" lengthAdjust="spacingAndGlyphs" stroke="#000" stroke-width="0.25" >618:43.190</text>
<g shape-rendering="crispEdges">
<rect x="964" y="481" width="56" height="1" fill="#000" />
</g>
<g shape-rendering="crispEdges">
<rect x="1052.5" y="242.5" width="34" height="13" fill="#FFF" stroke="#000" stroke-width="1" />
</g>
<text x="1069.5" y="253" font-size="11" fill="#000" text-anchor="middle" textLength="32.3" lengthAdjust="spacingAndGlyphs" stroke="#000" stroke-width="0.25" >69.125</text>
<g shape-rendering="crispEdges">
<rect x="1052.5" y="255.5" width="34" height="12" fill="#FFF" stroke="#000" stroke-width="1" />
</g>
<text x="1069.5" y="265" font-size="11" fill="#000" text-anchor="middle" textLength="32.3" lengthAdjust="spacingAndGlyphs" stroke="#000" stroke-width="0.25" >67.850</text>
<g shape-rendering="crispEdges">
<rect x="1052.5" y="327.5" width="34" height="13" fill="#FFF" stroke="#000" stroke-width="1" />
</g>
<text x="1069.5" y="338" font-size="11" fill="#000" text-anchor="middle" textLength="32.3" lengthAdjust="spacingAndGlyphs" stroke="#000" stroke-width="0.25" >59.325</text>
<g shape-rendering="crispEdges">
<rect x="1052.5" y="463.5" width="34" height="13" fill="#FFF" stroke="#000" stroke-width="1" />
</g>
<text x="1069.5" y="474" font-size="11" fill="#000" text-anchor="middle" textLength="32.3" lengthAdjust="spacingAndGlyphs" stroke="#000" stroke-width="0.25" >43.775</text>
<g shape-rendering="crispEdges">
<rect x="646.5" y="289.5" width="78" height="19" fill="#00FFFF" stroke="#000080" stroke-width="1" />
</g>
<text x="685.5" y="304" font-size="16" fill="#000080" font-weight="bold" font-style="italic" text-anchor="middle" textLength="66.5" lengthAdjust="spacingAndGlyphs" >B:54.675</text>
<g shape-rendering="crispEdges">
<rect x="782.5" y="509.5" width="78" height="19" fill="#00FFFF" stroke="#000080" stroke-width="1" />
</g>
<text x="821.5" y="524" font-size="16" fill="#000080" font-weight="bold" font-style="italic" text-anchor="middle" textLength="66.5" lengthAdjust="spacingAndGlyphs" >C:46.725</text>
<g shape-rendering="crispEdges">
<rect x="886.5" y="274.5" width="78" height="20" fill="#00FFFF" stroke="#000080" stroke-width="1" />
</g>
<text x="925.5" y="290" font-size="16" fill="#000080" font-weight="bold" font-style="italic" text-anchor="middle" textLength="66.5" lengthAdjust="spacingAndGlyphs" >D:58.800</text>
<g shape-rendering="crispEdges">
<rect x="1140.5" y="330.5" width="68" height="16" fill="#FFF" stroke="#00CED1" stroke-width="1" />
</g>
<clipPath id="c330"><rect x="1141" y="330" width="67" height="17"/></clipPath>
<text x="1145" y="343" font-size="13.5" fill="#00CED1" font-weight="bold" textLength="66" lengthAdjust="spacingAndGlyphs" clip-path="url(#c330)">3 Day HI=</text>
<g shape-rendering="crispEdges">
<rect x="1140.5" y="353.5" width="68" height="16" fill="#FFF" stroke="#FF0000" stroke-width="1" />
</g>
<clipPath id="c353"><rect x="1141" y="353" width="67" height="17"/></clipPath>
<text x="1145" y="366" font-size="13.5" fill="#FF0000" font-weight="bold" textLength="66" lengthAdjust="spacingAndGlyphs" clip-path="url(#c353)">3 Day BP=</text>
<g shape-rendering="crispEdges">
<rect x="1140.5" y="375.5" width="68" height="16" fill="#FFF" stroke="#000080" stroke-width="1" />
</g>
<clipPath id="c375"><rect x="1141" y="375" width="67" height="17"/></clipPath>
<text x="1145" y="388" font-size="13.5" fill="#000080" font-weight="bold" textLength="66" lengthAdjust="spacingAndGlyphs" clip-path="url(#c375)">3 Day RP=</text>
<rect x="226.5" y="398.5" width="38.30000000000001" height="13.7" fill="#FFF" />
<text x="228" y="408.5" font-size="11.8" fill="#0000FF" font-weight="bold" font-style="italic" textLength="36.3" lengthAdjust="spacingAndGlyphs" >15.325</text>
<rect x="329.8" y="414.8" width="38.69999999999999" height="13.7" fill="#FFF" />
<text x="331.3" y="424.8" font-size="11.8" fill="#0000FF" font-weight="bold" font-style="italic" textLength="36.7" lengthAdjust="spacingAndGlyphs" >15.400</text>
<rect x="279.1" y="563.2" width="43.69999999999999" height="13.7" fill="#FFF" />
<text x="280.6" y="573.2" font-size="11.8" fill="#0000FF" font-weight="bold" font-style="italic" textLength="41.7" lengthAdjust="spacingAndGlyphs" >-17.275</text>
<rect x="431" y="559" width="43" height="14" fill="#FFF" />
<text x="432.5" y="571" font-size="11.8" fill="#0000FF" font-weight="bold" font-style="italic" textLength="41.5" lengthAdjust="spacingAndGlyphs" >-15.025</text>
<rect x="665.7" y="361.7" width="38.89999999999998" height="13.7" fill="#FFF" />
<text x="667.2" y="371.7" font-size="11.8" fill="#0000FF" font-weight="bold" font-style="italic" textLength="36.9" lengthAdjust="spacingAndGlyphs" >21.125</text>
<rect x="803.0" y="445.5" width="36.89999999999998" height="13.7" fill="#FFF" />
<text x="804.5" y="455.5" font-size="11.8" fill="#0000FF" font-weight="bold" font-style="italic" textLength="34.9" lengthAdjust="spacingAndGlyphs" >-7.950</text>
<rect x="329.5" y="346" width="41" height="15" fill="#FFF" />
<text x="330.3" y="357.9" font-size="14" fill="#FF00FF" font-weight="bold" font-style="italic" textLength="39.3" lengthAdjust="spacingAndGlyphs" >48.575</text>
<rect x="344" y="380" width="12" height="15" fill="#FFF" />
<text x="344.9" y="392" font-size="14" fill="#FF00FF" font-style="italic" textLength="9.3" lengthAdjust="spacingAndGlyphs" >X</text>
<rect x="681" y="326" width="11" height="15" fill="#FFF" />
<text x="681.7" y="337.6" font-size="14" fill="#FF00FF" font-style="italic" textLength="8.7" lengthAdjust="spacingAndGlyphs" >B</text>
<rect x="817" y="477.5" width="11" height="15" fill="#FFF" />
<text x="817.7" y="489.2" font-size="14" fill="#FF00FF" font-style="italic" textLength="9.3" lengthAdjust="spacingAndGlyphs" >C</text>
<g clip-path="url(#cm)">
<text x="449.4" y="604.6" font-size="14" fill="#FF00FF" font-weight="bold" font-style="italic" textLength="7.6" lengthAdjust="spacingAndGlyphs" >A</text>
</g>
<rect x="905.5" y="304.6" width="39.39999999999998" height="13.7" fill="#FFF" />
<text x="907" y="314.6" font-size="11" fill="#000" font-weight="bold" font-style="italic" textLength="37.4" lengthAdjust="spacingAndGlyphs" >151.9 %</text>
<rect x="899.2" y="326.8" width="51.69999999999993" height="13.7" fill="#FFF" />
<text x="900.7" y="336.8" font-size="11" fill="#000" font-weight="bold" font-style="italic" textLength="49.7" lengthAdjust="spacingAndGlyphs" >12.075 ?D</text>
<rect x="0" y="266" width="207" height="337" fill="#FFF" />
<g shape-rendering="crispEdges">
<rect x="64" y="551" width="2" height="3" fill="#800080" />
<rect x="101" y="551" width="2" height="3" fill="#800080" />
</g>
<g shape-rendering="crispEdges">
<rect x="1" y="266" width="52" height="19" fill="#00FFFF" />
<rect x="1" y="286" width="52" height="152" fill="#C0C0C0" />
<rect x="154" y="324" width="51" height="19" fill="#00FFFF" />
<rect x="154" y="400" width="51" height="19" fill="#00FFFF" />
<rect x="0" y="266" width="206" height="1" fill="#000080" />
<rect x="0" y="286" width="206" height="1" fill="#000080" />
<rect x="0" y="305" width="206" height="1" fill="#000" />
<rect x="0" y="324" width="206" height="1" fill="#000" />
<rect x="0" y="343" width="206" height="1" fill="#000" />
<rect x="0" y="362" width="206" height="1" fill="#000" />
<rect x="0" y="381" width="206" height="1" fill="#000" />
<rect x="0" y="400" width="206" height="1" fill="#000" />
<rect x="0" y="419" width="206" height="1" fill="#000" />
<rect x="0" y="438" width="206" height="1" fill="#000" />
<rect x="0" y="457" width="206" height="1" fill="#000" />
<rect x="0" y="266" width="1" height="20" fill="#000080" />
<rect x="0" y="286" width="1" height="172" fill="#000" />
<rect x="53" y="266" width="1" height="20" fill="#000080" />
<rect x="53" y="286" width="1" height="172" fill="#000" />
<rect x="103" y="266" width="1" height="20" fill="#000080" />
<rect x="103" y="286" width="1" height="172" fill="#000" />
<rect x="154" y="266" width="1" height="20" fill="#000080" />
<rect x="154" y="286" width="1" height="172" fill="#000" />
<rect x="205" y="266" width="1" height="20" fill="#000080" />
<rect x="205" y="286" width="1" height="172" fill="#000" />
<rect x="3.5" y="290.5" width="8" height="5" fill="#00E000" stroke="#004000" stroke-width="1" />
<rect x="3.5" y="309.5" width="8" height="5" fill="#00E000" stroke="#004000" stroke-width="1" />
<rect x="3.5" y="347.5" width="8" height="5" fill="#00E000" stroke="#004000" stroke-width="1" />
<rect x="3.5" y="366.5" width="8" height="5" fill="#00E000" stroke="#004000" stroke-width="1" />
<rect x="3.5" y="385.5" width="8" height="5" fill="#00E000" stroke="#004000" stroke-width="1" />
<rect x="3.5" y="404.5" width="8" height="5" fill="#00E000" stroke="#004000" stroke-width="1" />
<rect x="3.5" y="423.5" width="8" height="5" fill="#00E000" stroke="#004000" stroke-width="1" />
</g>
<text x="2.5" y="282" font-size="13" fill="#000" font-weight="bold" textLength="46" lengthAdjust="spacingAndGlyphs" >Magnet</text>
<text x="70.9" y="282" font-size="13" fill="#000080" font-style="italic" textLength="16.7" lengthAdjust="spacingAndGlyphs" stroke="#000080" stroke-width="0.35" >AB</text>
<text x="120.9" y="282" font-size="13" fill="#000080" font-style="italic" textLength="16.8" lengthAdjust="spacingAndGlyphs" stroke="#000080" stroke-width="0.35" >CD</text>
<text x="160.2" y="282" font-size="13" fill="#000080" font-style="italic" textLength="40.1" lengthAdjust="spacingAndGlyphs" stroke="#000080" stroke-width="0.35" >CD/AB</text>
<text x="47" y="301" font-size="13" fill="#000" font-weight="bold" text-anchor="end" >Price</text>
<text x="99.6" y="301" font-size="13" fill="#000" text-anchor="end" stroke="#000" stroke-width="0.35" >21.125</text>
<text x="149.7" y="301" font-size="13" fill="#000" text-anchor="end" stroke="#000" stroke-width="0.35" >12.075</text>
<text x="200.3" y="301" font-size="13" fill="#000" text-anchor="end" stroke="#000" stroke-width="0.35" >0.572</text>
<text x="47" y="320" font-size="13" fill="#000" font-weight="bold" text-anchor="end" >%</text>
<text x="99.6" y="320" font-size="13" fill="#000" text-anchor="end" stroke="#000" stroke-width="0.35" >62.97</text>
<text x="149.7" y="320" font-size="13" fill="#000" text-anchor="end" stroke="#000" stroke-width="0.35" >25.84</text>
<text x="200.3" y="320" font-size="13" fill="#000" text-anchor="end" stroke="#000" stroke-width="0.35" >0.410</text>
<text x="47" y="339" font-size="13" fill="#000" font-weight="bold" text-anchor="end" >TD's</text>
<text x="99.6" y="339" font-size="13" fill="#000" text-anchor="end" stroke="#000" stroke-width="0.35" >29</text>
<text x="149.7" y="339" font-size="13" fill="#000" text-anchor="end" stroke="#000" stroke-width="0.35" >13</text>
<text x="200.3" y="339" font-size="13" fill="#000" text-anchor="end" stroke="#000" stroke-width="0.35" >0.447</text>
<text x="47" y="358" font-size="13" fill="#000" font-weight="bold" text-anchor="end" >Vib</text>
<text x="99.6" y="358" font-size="13" fill="#000" text-anchor="end" stroke="#000" stroke-width="0.35" >0.73</text>
<text x="149.7" y="358" font-size="13" fill="#000" text-anchor="end" stroke="#000" stroke-width="0.35" >0.93</text>
<text x="200.3" y="358" font-size="13" fill="#000" text-anchor="end" stroke="#000" stroke-width="0.35" >1.275</text>
<text x="47" y="377" font-size="13" fill="#000" font-weight="bold" text-anchor="end" >Days</text>
<text x="99.6" y="377" font-size="13" fill="#000" text-anchor="end" stroke="#000" stroke-width="0.35" >42</text>
<text x="149.7" y="377" font-size="13" fill="#000" text-anchor="end" stroke="#000" stroke-width="0.35" >17</text>
<text x="200.3" y="377" font-size="13" fill="#000" text-anchor="end" stroke="#000" stroke-width="0.35" >0.405</text>
<text x="47" y="396" font-size="13" fill="#000" font-weight="bold" text-anchor="end" >V/Day</text>
<text x="99.6" y="396" font-size="13" fill="#000" text-anchor="end" stroke="#000" stroke-width="0.35" >0.50</text>
<text x="149.7" y="396" font-size="13" fill="#000" text-anchor="end" stroke="#000" stroke-width="0.35" >0.71</text>
<text x="200.3" y="396" font-size="13" fill="#000" text-anchor="end" stroke="#000" stroke-width="0.35" >1.412</text>
<text x="47" y="415" font-size="13" fill="#000" font-weight="bold" text-anchor="end" >P/Deg</text>
<text x="99.6" y="415" font-size="13" fill="#000" text-anchor="end" stroke="#000" stroke-width="0.35" >42.06</text>
<text x="149.7" y="415" font-size="13" fill="#000" text-anchor="end" stroke="#000" stroke-width="0.35" >16.52</text>
<text x="200.3" y="415" font-size="13" fill="#000" text-anchor="end" stroke="#000" stroke-width="0.35" >0.382</text>
<text x="47" y="434" font-size="13" fill="#000" font-weight="bold" text-anchor="end" >V/Deg</text>
<text x="99.6" y="434" font-size="13" fill="#000" text-anchor="end" stroke="#000" stroke-width="0.35" >0.50</text>
<text x="149.7" y="434" font-size="13" fill="#000" text-anchor="end" stroke="#000" stroke-width="0.35" >0.73</text>
<text x="200.3" y="434" font-size="13" fill="#000" text-anchor="end" stroke="#000" stroke-width="0.35" >1.456</text>
<text x="26.7" y="452" font-size="13" fill="#000" font-weight="bold" text-anchor="middle" textLength="30" lengthAdjust="spacingAndGlyphs" >Sqr9</text>
<text x="78" y="452" font-size="13" fill="#000" text-anchor="middle" stroke="#000" stroke-width="0.35" >CD</text>
<text x="149.7" y="452" font-size="13" fill="#000" text-anchor="end" stroke="#000" stroke-width="0.35" >12.075</text>
<text x="179.5" y="452" font-size="13" fill="#000" text-anchor="middle" stroke="#000" stroke-width="0.35" >150</text>
<g shape-rendering="crispEdges">
<rect x="205" y="457" width="1" height="39" fill="#000" />
</g>
<g shape-rendering="crispEdges">
<rect x="1" y="495" width="100" height="20" fill="#ECE9D8" />
<rect x="1" y="495" width="100" height="1" fill="#FFF" />
<rect x="1" y="495" width="1" height="20" fill="#FFF" />
<rect x="1" y="514" width="100" height="1" fill="#8A887A" />
<rect x="100" y="495" width="1" height="20" fill="#8A887A" />
<rect x="2" y="513" width="98" height="1" fill="#C5C2B0" />
<rect x="99" y="496" width="1" height="18" fill="#C5C2B0" />
</g>
<text x="8.4" y="510" font-size="13" fill="#000" textLength="83.6" lengthAdjust="spacingAndGlyphs" stroke="#000" stroke-width="0.35" >Cycles Abc'D'</text>
<g shape-rendering="crispEdges">
<rect x="103" y="495" width="103" height="20" fill="#ECE9D8" />
<rect x="103" y="495" width="103" height="1" fill="#FFF" />
<rect x="103" y="495" width="1" height="20" fill="#FFF" />
<rect x="103" y="514" width="103" height="1" fill="#8A887A" />
<rect x="205" y="495" width="1" height="20" fill="#8A887A" />
<rect x="104" y="513" width="101" height="1" fill="#C5C2B0" />
<rect x="204" y="496" width="1" height="18" fill="#C5C2B0" />
</g>
<polygon points="135,499.0 124.5,504.5 135,510.0 131.8,504.5" fill="#000"/>
<polygon points="174,499.0 184.5,504.5 174,510.0 177.2,504.5" fill="#000"/>
<g shape-rendering="crispEdges">
<rect x="1" y="516" width="27" height="18" fill="#ECE9D8" />
<rect x="1" y="516" width="27" height="1" fill="#FFF" />
<rect x="1" y="516" width="1" height="18" fill="#FFF" />
<rect x="1" y="533" width="27" height="1" fill="#8A887A" />
<rect x="27" y="516" width="1" height="18" fill="#8A887A" />
<rect x="2" y="532" width="25" height="1" fill="#C5C2B0" />
<rect x="26" y="517" width="1" height="16" fill="#C5C2B0" />
</g>
<text x="9" y="530" font-size="13" fill="#000" stroke="#000" stroke-width="0.35" >A</text>
<g shape-rendering="crispEdges">
<rect x="29" y="516" width="35" height="18" fill="#ECE9D8" />
<rect x="29" y="516" width="35" height="1" fill="#FFF" />
<rect x="29" y="516" width="1" height="18" fill="#FFF" />
<rect x="29" y="533" width="35" height="1" fill="#8A887A" />
<rect x="63" y="516" width="1" height="18" fill="#8A887A" />
<rect x="30" y="532" width="33" height="1" fill="#C5C2B0" />
<rect x="62" y="517" width="1" height="16" fill="#C5C2B0" />
</g>
<polygon points="52,519.5 41.5,525.0 52,530.5 48.8,525.0" fill="#000"/>
<g shape-rendering="crispEdges">
<rect x="66" y="516" width="35" height="18" fill="#ECE9D8" />
<rect x="66" y="516" width="35" height="1" fill="#FFF" />
<rect x="66" y="516" width="1" height="18" fill="#FFF" />
<rect x="66" y="533" width="35" height="1" fill="#8A887A" />
<rect x="100" y="516" width="1" height="18" fill="#8A887A" />
<rect x="67" y="532" width="33" height="1" fill="#C5C2B0" />
<rect x="99" y="517" width="1" height="16" fill="#C5C2B0" />
</g>
<polygon points="78,519.5 88.5,525.0 78,530.5 81.2,525.0" fill="#000"/>
<g shape-rendering="crispEdges">
<rect x="1" y="535" width="27" height="18" fill="#ECE9D8" />
<rect x="1" y="535" width="27" height="1" fill="#FFF" />
<rect x="1" y="535" width="1" height="18" fill="#FFF" />
<rect x="1" y="552" width="27" height="1" fill="#8A887A" />
<rect x="27" y="535" width="1" height="18" fill="#8A887A" />
<rect x="2" y="551" width="25" height="1" fill="#C5C2B0" />
<rect x="26" y="536" width="1" height="16" fill="#C5C2B0" />
</g>
<text x="9" y="549" font-size="13" fill="#000" stroke="#000" stroke-width="0.35" >B</text>
<g shape-rendering="crispEdges">
<rect x="29" y="535" width="35" height="18" fill="#ECE9D8" />
<rect x="29" y="535" width="35" height="1" fill="#FFF" />
<rect x="29" y="535" width="1" height="18" fill="#FFF" />
<rect x="29" y="552" width="35" height="1" fill="#8A887A" />
<rect x="63" y="535" width="1" height="18" fill="#8A887A" />
<rect x="30" y="551" width="33" height="1" fill="#C5C2B0" />
<rect x="62" y="536" width="1" height="16" fill="#C5C2B0" />
</g>
<polygon points="52,538.5 41.5,544.0 52,549.5 48.8,544.0" fill="#000"/>
<g shape-rendering="crispEdges">
<rect x="66" y="535" width="35" height="18" fill="#ECE9D8" />
<rect x="66" y="535" width="35" height="1" fill="#FFF" />
<rect x="66" y="535" width="1" height="18" fill="#FFF" />
<rect x="66" y="552" width="35" height="1" fill="#8A887A" />
<rect x="100" y="535" width="1" height="18" fill="#8A887A" />
<rect x="67" y="551" width="33" height="1" fill="#C5C2B0" />
<rect x="99" y="536" width="1" height="16" fill="#C5C2B0" />
</g>
<polygon points="78,538.5 88.5,544.0 78,549.5 81.2,544.0" fill="#000"/>
<g shape-rendering="crispEdges">
<rect x="1" y="554" width="27" height="18" fill="#ECE9D8" />
<rect x="1" y="554" width="27" height="1" fill="#FFF" />
<rect x="1" y="554" width="1" height="18" fill="#FFF" />
<rect x="1" y="571" width="27" height="1" fill="#8A887A" />
<rect x="27" y="554" width="1" height="18" fill="#8A887A" />
<rect x="2" y="570" width="25" height="1" fill="#C5C2B0" />
<rect x="26" y="555" width="1" height="16" fill="#C5C2B0" />
</g>
<text x="9" y="568" font-size="13" fill="#000" stroke="#000" stroke-width="0.35" >C</text>
<g shape-rendering="crispEdges">
<rect x="29" y="554" width="35" height="18" fill="#ECE9D8" />
<rect x="29" y="554" width="35" height="1" fill="#FFF" />
<rect x="29" y="554" width="1" height="18" fill="#FFF" />
<rect x="29" y="571" width="35" height="1" fill="#8A887A" />
<rect x="63" y="554" width="1" height="18" fill="#8A887A" />
<rect x="30" y="570" width="33" height="1" fill="#C5C2B0" />
<rect x="62" y="555" width="1" height="16" fill="#C5C2B0" />
</g>
<polygon points="52,557.5 41.5,563.0 52,568.5 48.8,563.0" fill="#000"/>
<g shape-rendering="crispEdges">
<rect x="66" y="554" width="35" height="18" fill="#ECE9D8" />
<rect x="66" y="554" width="35" height="1" fill="#FFF" />
<rect x="66" y="554" width="1" height="18" fill="#FFF" />
<rect x="66" y="571" width="35" height="1" fill="#8A887A" />
<rect x="100" y="554" width="1" height="18" fill="#8A887A" />
<rect x="67" y="570" width="33" height="1" fill="#C5C2B0" />
<rect x="99" y="555" width="1" height="16" fill="#C5C2B0" />
</g>
<polygon points="78,557.5 88.5,563.0 78,568.5 81.2,563.0" fill="#000"/>
<g shape-rendering="crispEdges">
<rect x="1" y="573" width="27" height="18" fill="#ECE9D8" />
<rect x="1" y="573" width="27" height="1" fill="#FFF" />
<rect x="1" y="573" width="1" height="18" fill="#FFF" />
<rect x="1" y="590" width="27" height="1" fill="#8A887A" />
<rect x="27" y="573" width="1" height="18" fill="#8A887A" />
<rect x="2" y="589" width="25" height="1" fill="#C5C2B0" />
<rect x="26" y="574" width="1" height="16" fill="#C5C2B0" />
</g>
<text x="9" y="587" font-size="13" fill="#000" stroke="#000" stroke-width="0.35" >D</text>
<g shape-rendering="crispEdges">
<rect x="29" y="573" width="35" height="18" fill="#ECE9D8" />
<rect x="29" y="573" width="35" height="1" fill="#FFF" />
<rect x="29" y="573" width="1" height="18" fill="#FFF" />
<rect x="29" y="590" width="35" height="1" fill="#8A887A" />
<rect x="63" y="573" width="1" height="18" fill="#8A887A" />
<rect x="30" y="589" width="33" height="1" fill="#C5C2B0" />
<rect x="62" y="574" width="1" height="16" fill="#C5C2B0" />
</g>
<polygon points="52,576.5 41.5,582.0 52,587.5 48.8,582.0" fill="#000"/>
<g shape-rendering="crispEdges">
<rect x="66" y="573" width="35" height="18" fill="#ECE9D8" />
<rect x="66" y="573" width="35" height="1" fill="#FFF" />
<rect x="66" y="573" width="1" height="18" fill="#FFF" />
<rect x="66" y="590" width="35" height="1" fill="#8A887A" />
<rect x="100" y="573" width="1" height="18" fill="#8A887A" />
<rect x="67" y="589" width="33" height="1" fill="#C5C2B0" />
<rect x="99" y="574" width="1" height="16" fill="#C5C2B0" />
</g>
<polygon points="78,576.5 88.5,582.0 78,587.5 81.2,582.0" fill="#000"/>
<g shape-rendering="crispEdges">
<rect x="103" y="516" width="103" height="18" fill="#ECE9D8" />
<rect x="103" y="516" width="103" height="1" fill="#FFF" />
<rect x="103" y="516" width="1" height="18" fill="#FFF" />
<rect x="103" y="533" width="103" height="1" fill="#8A887A" />
<rect x="205" y="516" width="1" height="18" fill="#8A887A" />
<rect x="104" y="532" width="101" height="1" fill="#C5C2B0" />
<rect x="204" y="517" width="1" height="16" fill="#C5C2B0" />
</g>
<text x="154.3" y="530" font-size="13" fill="#000" text-anchor="middle" textLength="81.4" lengthAdjust="spacingAndGlyphs" stroke="#000" stroke-width="0.35" >A&gt;&gt;B&gt;&gt;C&gt;&gt;D</text>
<g shape-rendering="crispEdges">
<rect x="103" y="535" width="103" height="18" fill="#ECE9D8" />
<rect x="103" y="535" width="103" height="1" fill="#FFF" />
<rect x="103" y="535" width="1" height="18" fill="#FFF" />
<rect x="103" y="552" width="103" height="1" fill="#8A887A" />
<rect x="205" y="535" width="1" height="18" fill="#8A887A" />
<rect x="104" y="551" width="101" height="1" fill="#C5C2B0" />
<rect x="204" y="536" width="1" height="16" fill="#C5C2B0" />
</g>
<text x="154.3" y="549" font-size="13" fill="#000" text-anchor="middle" textLength="28" lengthAdjust="spacingAndGlyphs" stroke="#000" stroke-width="0.35" >EXIT</text>
<g shape-rendering="crispEdges">
<rect x="103" y="554" width="103" height="18" fill="#ECE9D8" />
<rect x="103" y="554" width="103" height="1" fill="#FFF" />
<rect x="103" y="554" width="1" height="18" fill="#FFF" />
<rect x="103" y="571" width="103" height="1" fill="#8A887A" />
<rect x="205" y="554" width="1" height="18" fill="#8A887A" />
<rect x="104" y="570" width="101" height="1" fill="#C5C2B0" />
<rect x="204" y="555" width="1" height="16" fill="#C5C2B0" />
</g>
<text x="154.7" y="569" font-size="16" fill="#000" font-weight="bold" text-anchor="middle" textLength="39" lengthAdjust="spacingAndGlyphs" >6.730</text>
<g shape-rendering="crispEdges">
<rect x="103" y="573" width="51" height="18" fill="#ECE9D8" />
<rect x="103" y="573" width="51" height="1" fill="#FFF" />
<rect x="103" y="573" width="1" height="18" fill="#FFF" />
<rect x="103" y="590" width="51" height="1" fill="#8A887A" />
<rect x="153" y="573" width="1" height="18" fill="#8A887A" />
<rect x="104" y="589" width="49" height="1" fill="#C5C2B0" />
<rect x="152" y="574" width="1" height="16" fill="#C5C2B0" />
</g>
<text x="130" y="586" font-size="13" fill="#000" text-anchor="middle" textLength="14.4" lengthAdjust="spacingAndGlyphs" stroke="#000" stroke-width="0.35" >&lt;&lt;</text>
<g shape-rendering="crispEdges">
<rect x="154" y="573" width="52" height="18" fill="#ECE9D8" />
<rect x="154" y="573" width="52" height="1" fill="#FFF" />
<rect x="154" y="573" width="1" height="18" fill="#FFF" />
<rect x="154" y="590" width="52" height="1" fill="#8A887A" />
<rect x="205" y="573" width="1" height="18" fill="#8A887A" />
<rect x="155" y="589" width="50" height="1" fill="#C5C2B0" />
<rect x="204" y="574" width="1" height="16" fill="#C5C2B0" />
</g>
<text x="179.7" y="586" font-size="13" fill="#000" text-anchor="middle" textLength="14.4" lengthAdjust="spacingAndGlyphs" stroke="#000" stroke-width="0.35" >&gt;&gt;</text>
<text x="2.5" y="600.5" font-size="9.5" fill="#000" textLength="96.5" lengthAdjust="spacingAndGlyphs" >Copyright © 2006 eSignal.</text>
<g shape-rendering="crispEdges">
<rect x="4" y="382" width="3" height="46" fill="#000" />
<rect x="3" y="384" width="5" height="35" fill="#000" />
<rect x="4" y="385" width="3" height="33" fill="#FF0000" />
<rect x="12" y="406" width="3" height="27" fill="#000" />
<rect x="11" y="416" width="5" height="10" fill="#000" />
<rect x="12" y="417" width="3" height="8" fill="#00FF00" />
<rect x="20" y="369" width="3" height="57" fill="#000" />
<rect x="19" y="376" width="5" height="31" fill="#000" />
<rect x="20" y="377" width="3" height="29" fill="#00FF00" />
<rect x="28" y="376" width="3" height="33" fill="#000" />
<rect x="27" y="378" width="5" height="30" fill="#000" />
<rect x="28" y="379" width="3" height="28" fill="#FF0000" />
<rect x="36" y="375" width="3" height="38" fill="#000" />
<rect x="35" y="377" width="5" height="30" fill="#000" />
<rect x="36" y="378" width="3" height="28" fill="#00FF00" />
<rect x="44" y="364" width="3" height="42" fill="#000" />
<rect x="52" y="374" width="3" height="55" fill="#000" />
<rect x="51" y="374" width="5" height="48" fill="#000" />
<rect x="52" y="375" width="3" height="46" fill="#FF0000" />
<rect x="60" y="413" width="3" height="30" fill="#000" />
<rect x="59" y="426" width="5" height="16" fill="#000" />
<rect x="60" y="427" width="3" height="14" fill="#FF0000" />
<rect x="68" y="432" width="3" height="17" fill="#000" />
<rect x="67" y="436" width="5" height="6" fill="#000" />
<rect x="68" y="437" width="3" height="4" fill="#FF0000" />
<rect x="76" y="439" width="3" height="33" fill="#000" />
<rect x="75" y="442" width="5" height="28" fill="#000" />
<rect x="76" y="443" width="3" height="26" fill="#FF0000" />
<rect x="84" y="464" width="3" height="34" fill="#000" />
<rect x="83" y="470" width="5" height="25" fill="#000" />
<rect x="84" y="471" width="3" height="23" fill="#FF0000" />
<rect x="92" y="462" width="3" height="28" fill="#000" />
<rect x="91" y="470" width="5" height="17" fill="#000" />
<rect x="92" y="471" width="3" height="15" fill="#00FF00" />
<rect x="100" y="463" width="3" height="23" fill="#000" />
<rect x="99" y="469" width="5" height="15" fill="#000" />
<rect x="100" y="470" width="3" height="13" fill="#FF0000" />
<rect x="108" y="449" width="3" height="38" fill="#000" />
<rect x="107" y="472" width="5" height="9" fill="#000" />
<rect x="108" y="473" width="3" height="7" fill="#00FF00" />
<rect x="116" y="423" width="3" height="51" fill="#000" />
<rect x="115" y="433" width="5" height="33" fill="#000" />
<rect x="116" y="434" width="3" height="31" fill="#00FF00" />
<rect x="124" y="437" width="3" height="36" fill="#000" />
<rect x="123" y="441" width="5" height="7" fill="#000" />
<rect x="124" y="442" width="3" height="5" fill="#FF0000" />
<rect x="132" y="414" width="3" height="54" fill="#000" />
<rect x="131" y="444" width="5" height="19" fill="#000" />
<rect x="132" y="445" width="3" height="17" fill="#FF0000" />
<rect x="140" y="446" width="3" height="33" fill="#000" />
<rect x="139" y="460" width="5" height="11" fill="#000" />
<rect x="140" y="461" width="3" height="9" fill="#FF0000" />
<rect x="148" y="453" width="3" height="51" fill="#000" />
<rect x="147" y="470" width="5" height="31" fill="#000" />
<rect x="148" y="471" width="3" height="29" fill="#FF0000" />
<rect x="156" y="495" width="3" height="42" fill="#000" />
<rect x="155" y="501" width="5" height="34" fill="#000" />
<rect x="156" y="502" width="3" height="32" fill="#FF0000" />
<rect x="164" y="474" width="3" height="21" fill="#000" />
<rect x="163" y="482" width="5" height="2" fill="#000" />
<rect x="172" y="472" width="3" height="35" fill="#000" />
<rect x="171" y="479" width="5" height="23" fill="#000" />
<rect x="172" y="480" width="3" height="21" fill="#FF0000" />
<rect x="180" y="497" width="3" height="25" fill="#000" />
<rect x="179" y="507" width="5" height="5" fill="#000" />
<rect x="180" y="508" width="3" height="3" fill="#FF0000" />
<rect x="188" y="506" width="3" height="39" fill="#000" />
<rect x="187" y="510" width="5" height="33" fill="#000" />
<rect x="188" y="511" width="3" height="31" fill="#FF0000" />
<rect x="196" y="520" width="3" height="21" fill="#000" />
<rect x="195" y="523" width="5" height="16" fill="#000" />
<rect x="196" y="524" width="3" height="14" fill="#00FF00" />
<rect x="204" y="484" width="3" height="40" fill="#000" />
<rect x="203" y="503" width="5" height="14" fill="#000" />
<rect x="204" y="504" width="3" height="12" fill="#00FF00" />
<rect x="212" y="498" width="3" height="23" fill="#000" />
<rect x="211" y="501" width="5" height="10" fill="#000" />
<rect x="212" y="502" width="3" height="8" fill="#FF0000" />
<rect x="220" y="454" width="3" height="76" fill="#000" />
<rect x="219" y="463" width="5" height="47" fill="#000" />
<rect x="220" y="464" width="3" height="45" fill="#00FF00" />
<rect x="228" y="444" width="3" height="50" fill="#000" />
<rect x="227" y="447" width="5" height="25" fill="#000" />
<rect x="228" y="448" width="3" height="23" fill="#00FF00" />
<rect x="236" y="422" width="3" height="32" fill="#000" />
<rect x="235" y="426" width="5" height="16" fill="#000" />
<rect x="236" y="427" width="3" height="14" fill="#00FF00" />
<rect x="244" y="412" width="3" height="25" fill="#000" />
<rect x="243" y="428" width="5" height="3" fill="#000" />
<rect x="244" y="429" width="3" height="1" fill="#00FF00" />
<rect x="252" y="424" width="3" height="57" fill="#000" />
<rect x="251" y="429" width="5" height="50" fill="#000" />
<rect x="252" y="430" width="3" height="48" fill="#FF0000" />
<rect x="260" y="471" width="3" height="27" fill="#000" />
<rect x="259" y="480" width="5" height="7" fill="#000" />
<rect x="260" y="481" width="3" height="5" fill="#FF0000" />
<rect x="268" y="479" width="3" height="29" fill="#000" />
<rect x="267" y="482" width="5" height="12" fill="#000" />
<rect x="268" y="483" width="3" height="10" fill="#FF0000" />
<rect x="276" y="496" width="3" height="29" fill="#000" />
<rect x="275" y="498" width="5" height="25" fill="#000" />
<rect x="276" y="499" width="3" height="23" fill="#FF0000" />
<rect x="284" y="507" width="3" height="30" fill="#000" />
<rect x="283" y="522" width="5" height="2" fill="#000" />
<rect x="292" y="508" width="3" height="34" fill="#000" />
<rect x="291" y="514" width="5" height="11" fill="#000" />
<rect x="292" y="515" width="3" height="9" fill="#FF0000" />
<rect x="300" y="520" width="3" height="41" fill="#000" />
<rect x="299" y="524" width="5" height="19" fill="#000" />
<rect x="300" y="525" width="3" height="17" fill="#FF0000" />
<rect x="308" y="464" width="3" height="21" fill="#000" />
<rect x="307" y="476" width="5" height="4" fill="#000" />
<rect x="308" y="477" width="3" height="2" fill="#FF0000" />
<rect x="316" y="470" width="3" height="41" fill="#000" />
<rect x="315" y="480" width="5" height="14" fill="#000" />
<rect x="316" y="481" width="3" height="12" fill="#FF0000" />
<rect x="324" y="464" width="3" height="37" fill="#000" />
<rect x="323" y="472" width="5" height="21" fill="#000" />
<rect x="324" y="473" width="3" height="19" fill="#00FF00" />
<rect x="332" y="458" width="3" height="42" fill="#000" />
<rect x="331" y="466" width="5" height="5" fill="#000" />
<rect x="332" y="467" width="3" height="3" fill="#FF0000" />
<rect x="340" y="441" width="3" height="50" fill="#000" />
<rect x="339" y="446" width="5" height="29" fill="#000" />
<rect x="340" y="447" width="3" height="27" fill="#00FF00" />
<rect x="348" y="428" width="3" height="29" fill="#000" />
<rect x="347" y="448" width="5" height="5" fill="#000" />
<rect x="348" y="449" width="3" height="3" fill="#FF0000" />
<rect x="356" y="437" width="3" height="53" fill="#000" />
<rect x="355" y="452" width="5" height="36" fill="#000" />
<rect x="356" y="453" width="3" height="34" fill="#FF0000" />
<rect x="364" y="471" width="3" height="27" fill="#000" />
<rect x="363" y="484" width="5" height="2" fill="#000" />
<rect x="372" y="483" width="3" height="18" fill="#000" />
<rect x="371" y="484" width="5" height="5" fill="#000" />
<rect x="372" y="485" width="3" height="3" fill="#FF0000" />
<rect x="380" y="473" width="3" height="21" fill="#000" />
<rect x="379" y="488" width="5" height="2" fill="#000" />
<rect x="388" y="483" width="3" height="22" fill="#000" />
<rect x="387" y="484" width="5" height="18" fill="#000" />
<rect x="388" y="485" width="3" height="16" fill="#FF0000" />
<rect x="396" y="493" width="3" height="13" fill="#000" />
<rect x="395" y="497" width="5" height="4" fill="#000" />
<rect x="396" y="498" width="3" height="2" fill="#00FF00" />
<rect x="404" y="486" width="3" height="19" fill="#000" />
<rect x="403" y="495" width="5" height="5" fill="#000" />
<rect x="404" y="496" width="3" height="3" fill="#FF0000" />
<rect x="412" y="492" width="3" height="16" fill="#000" />
<rect x="411" y="493" width="5" height="6" fill="#000" />
<rect x="412" y="494" width="3" height="4" fill="#00FF00" />
<rect x="420" y="480" width="3" height="35" fill="#000" />
<rect x="419" y="495" width="5" height="5" fill="#000" />
<rect x="420" y="496" width="3" height="3" fill="#FF0000" />
<rect x="428" y="481" width="3" height="27" fill="#000" />
<rect x="427" y="503" width="5" height="4" fill="#000" />
<rect x="428" y="504" width="3" height="2" fill="#FF0000" />
<rect x="436" y="487" width="3" height="39" fill="#000" />
<rect x="435" y="506" width="5" height="17" fill="#000" />
<rect x="436" y="507" width="3" height="15" fill="#FF0000" />
<rect x="444" y="516" width="3" height="25" fill="#000" />
<rect x="443" y="518" width="5" height="20" fill="#000" />
<rect x="444" y="519" width="3" height="18" fill="#FFF" />
<rect x="452" y="535" width="3" height="24" fill="#000" />
<rect x="451" y="538" width="5" height="17" fill="#000" />
<rect x="452" y="539" width="3" height="15" fill="#FF0000" />
<rect x="460" y="518" width="3" height="39" fill="#000" />
<rect x="459" y="524" width="5" height="27" fill="#000" />
<rect x="460" y="525" width="3" height="25" fill="#00FF00" />
<rect x="468" y="514" width="3" height="37" fill="#000" />
<rect x="467" y="525" width="5" height="22" fill="#000" />
<rect x="468" y="526" width="3" height="20" fill="#FF0000" />
<rect x="476" y="536" width="3" height="18" fill="#000" />
<rect x="475" y="545" width="5" height="5" fill="#000" />
<rect x="476" y="546" width="3" height="3" fill="#FF0000" />
<rect x="484" y="500" width="3" height="28" fill="#000" />
<rect x="483" y="501" width="5" height="24" fill="#000" />
<rect x="484" y="502" width="3" height="22" fill="#00FF00" />
<rect x="492" y="502" width="3" height="22" fill="#000" />
<rect x="491" y="502" width="5" height="4" fill="#000" />
<rect x="492" y="503" width="3" height="2" fill="#00FF00" />
<rect x="500" y="490" width="3" height="31" fill="#000" />
<rect x="499" y="506" width="5" height="9" fill="#000" />
<rect x="500" y="507" width="3" height="7" fill="#FF0000" />
<rect x="508" y="502" width="3" height="21" fill="#000" />
<rect x="507" y="503" width="5" height="17" fill="#000" />
<rect x="508" y="504" width="3" height="15" fill="#00FF00" />
<rect x="516" y="478" width="3" height="29" fill="#000" />
<rect x="515" y="481" width="5" height="20" fill="#000" />
<rect x="516" y="482" width="3" height="18" fill="#00FF00" />
<rect x="524" y="457" width="3" height="26" fill="#000" />
<rect x="523" y="457" width="5" height="25" fill="#000" />
<rect x="524" y="458" width="3" height="23" fill="#00FF00" />
<rect x="532" y="459" width="3" height="22" fill="#000" />
<rect x="531" y="461" width="5" height="4" fill="#000" />
<rect x="532" y="462" width="3" height="2" fill="#00FF00" />
<rect x="540" y="464" width="3" height="42" fill="#000" />
<rect x="539" y="465" width="5" height="35" fill="#000" />
<rect x="540" y="466" width="3" height="33" fill="#FF0000" />
<rect x="548" y="485" width="3" height="25" fill="#000" />
<rect x="547" y="488" width="5" height="12" fill="#000" />
<rect x="548" y="489" width="3" height="10" fill="#00FF00" />
<rect x="556" y="453" width="3" height="40" fill="#000" />
<rect x="555" y="456" width="5" height="34" fill="#000" />
<rect x="556" y="457" width="3" height="32" fill="#00FF00" />
<rect x="564" y="453" width="3" height="25" fill="#000" />
<rect x="563" y="456" width="5" height="15" fill="#000" />
<rect x="564" y="457" width="3" height="13" fill="#FF0000" />
<rect x="572" y="447" width="3" height="25" fill="#000" />
<rect x="571" y="455" width="5" height="16" fill="#000" />
<rect x="572" y="456" width="3" height="14" fill="#00FF00" />
<rect x="580" y="426" width="3" height="33" fill="#000" />
<rect x="579" y="441" width="5" height="11" fill="#000" />
<rect x="580" y="442" width="3" height="9" fill="#00FF00" />
<rect x="588" y="430" width="3" height="26" fill="#000" />
<rect x="587" y="440" width="5" height="13" fill="#000" />
<rect x="588" y="441" width="3" height="11" fill="#FF0000" />
<rect x="596" y="450" width="3" height="35" fill="#000" />
<rect x="595" y="454" width="5" height="27" fill="#000" />
<rect x="596" y="455" width="3" height="25" fill="#FF0000" />
<rect x="604" y="439" width="3" height="42" fill="#000" />
<rect x="603" y="441" width="5" height="37" fill="#000" />
<rect x="604" y="442" width="3" height="35" fill="#00FF00" />
<rect x="612" y="431" width="3" height="23" fill="#000" />
<rect x="611" y="440" width="5" height="8" fill="#000" />
<rect x="612" y="441" width="3" height="6" fill="#FF0000" />
<rect x="620" y="436" width="3" height="37" fill="#000" />
<rect x="619" y="439" width="5" height="16" fill="#000" />
<rect x="620" y="440" width="3" height="14" fill="#00FF00" />
<rect x="628" y="417" width="3" height="29" fill="#000" />
<rect x="627" y="423" width="5" height="19" fill="#000" />
<rect x="628" y="424" width="3" height="17" fill="#00FF00" />
<rect x="636" y="417" width="3" height="25" fill="#000" />
<rect x="635" y="427" width="5" height="5" fill="#000" />
<rect x="636" y="428" width="3" height="3" fill="#FF0000" />
<rect x="644" y="389" width="3" height="29" fill="#000" />
<rect x="643" y="398" width="5" height="14" fill="#000" />
<rect x="644" y="399" width="3" height="12" fill="#00FF00" />
<rect x="652" y="392" width="3" height="15" fill="#000" />
<rect x="651" y="397" width="5" height="3" fill="#000" />
<rect x="652" y="398" width="3" height="1" fill="#00FF00" />
<rect x="660" y="380" width="3" height="20" fill="#000" />
<rect x="659" y="382" width="5" height="12" fill="#000" />
<rect x="660" y="383" width="3" height="10" fill="#00FF00" />
<rect x="668" y="380" width="3" height="13" fill="#000" />
<rect x="667" y="380" width="5" height="2" fill="#000" />
<rect x="676" y="378" width="3" height="21" fill="#000" />
<rect x="675" y="384" width="5" height="6" fill="#000" />
<rect x="676" y="385" width="3" height="4" fill="#FF0000" />
<rect x="684" y="375" width="3" height="16" fill="#000" />
<rect x="683" y="378" width="5" height="11" fill="#000" />
<rect x="684" y="379" width="3" height="9" fill="#00FF00" />
<rect x="692" y="378" width="3" height="22" fill="#000" />
<rect x="691" y="381" width="5" height="13" fill="#000" />
<rect x="692" y="382" width="3" height="11" fill="#FF0000" />
<rect x="700" y="394" width="3" height="37" fill="#000" />
<rect x="699" y="394" width="5" height="35" fill="#000" />
<rect x="700" y="395" width="3" height="33" fill="#FF0000" />
<rect x="708" y="415" width="3" height="20" fill="#000" />
<rect x="707" y="418" width="5" height="9" fill="#000" />
<rect x="708" y="419" width="3" height="7" fill="#00FF00" />
<rect x="716" y="424" width="3" height="15" fill="#000" />
<rect x="715" y="426" width="5" height="3" fill="#000" />
<rect x="716" y="427" width="3" height="1" fill="#FF0000" />
<rect x="724" y="390" width="3" height="38" fill="#000" />
<rect x="723" y="392" width="5" height="36" fill="#000" />
<rect x="724" y="393" width="3" height="34" fill="#00FF00" />
<rect x="732" y="382" width="3" height="24" fill="#000" />
<rect x="731" y="392" width="5" height="2" fill="#000" />
<rect x="740" y="384" width="3" height="33" fill="#000" />
<rect x="739" y="394" width="5" height="11" fill="#000" />
<rect x="740" y="395" width="3" height="9" fill="#FF0000" />
<rect x="748" y="400" width="3" height="29" fill="#000" />
<rect x="747" y="403" width="5" height="20" fill="#000" />
<rect x="748" y="404" width="3" height="18" fill="#FF0000" />
<rect x="756" y="404" width="3" height="34" fill="#000" />
<rect x="755" y="421" width="5" height="7" fill="#000" />
<rect x="756" y="422" width="3" height="5" fill="#00FF00" />
<rect x="764" y="394" width="3" height="24" fill="#000" />
<rect x="763" y="396" width="5" height="18" fill="#000" />
<rect x="764" y="397" width="3" height="16" fill="#00FF00" />
<rect x="772" y="397" width="3" height="29" fill="#000" />
<rect x="771" y="398" width="5" height="16" fill="#000" />
<rect x="772" y="399" width="3" height="14" fill="#FF0000" />
<rect x="780" y="406" width="3" height="18" fill="#000" />
<rect x="779" y="416" width="5" height="5" fill="#000" />
<rect x="780" y="417" width="3" height="3" fill="#FF0000" />
<rect x="788" y="408" width="3" height="17" fill="#000" />
<rect x="787" y="420" width="5" height="2" fill="#000" />
<rect x="796" y="411" width="3" height="12" fill="#000" />
<rect x="795" y="416" width="5" height="2" fill="#000" />
<rect x="804" y="403" width="3" height="18" fill="#000" />
<rect x="803" y="413" width="5" height="4" fill="#000" />
<rect x="804" y="414" width="3" height="2" fill="#00FF00" />
<rect x="812" y="392" width="3" height="39" fill="#000" />
<rect x="811" y="396" width="5" height="31" fill="#000" />
<rect x="812" y="397" width="3" height="29" fill="#FF0000" />
<rect x="820" y="422" width="3" height="21" fill="#000" />
<rect x="819" y="428" width="5" height="2" fill="#000" />
<rect x="828" y="423" width="3" height="13" fill="#000" />
<rect x="827" y="424" width="5" height="2" fill="#000" />
<rect x="836" y="415" width="3" height="15" fill="#000" />
<rect x="835" y="420" width="5" height="7" fill="#000" />
<rect x="836" y="421" width="3" height="5" fill="#00FF00" />
<rect x="844" y="400" width="3" height="23" fill="#000" />
<rect x="843" y="402" width="5" height="15" fill="#000" />
<rect x="844" y="403" width="3" height="13" fill="#00FF00" />
<rect x="852" y="403" width="3" height="30" fill="#000" />
<rect x="851" y="404" width="5" height="9" fill="#000" />
<rect x="852" y="405" width="3" height="7" fill="#FF0000" />
<rect x="860" y="413" width="3" height="15" fill="#000" />
<rect x="859" y="414" width="5" height="2" fill="#000" />
<rect x="868" y="403" width="3" height="20" fill="#000" />
<rect x="867" y="407" width="5" height="15" fill="#000" />
<rect x="868" y="408" width="3" height="13" fill="#00FF00" />
<rect x="876" y="399" width="3" height="14" fill="#000" />
<rect x="875" y="405" width="5" height="3" fill="#000" />
<rect x="876" y="406" width="3" height="1" fill="#00FF00" />
<rect x="884" y="381" width="3" height="31" fill="#000" />
<rect x="883" y="388" width="5" height="19" fill="#000" />
<rect x="884" y="389" width="3" height="17" fill="#00FF00" />
<rect x="892" y="375" width="3" height="18" fill="#000" />
<rect x="891" y="376" width="5" height="16" fill="#000" />
<rect x="892" y="377" width="3" height="14" fill="#00FF00" />
<rect x="900" y="372" width="3" height="13" fill="#000" />
<rect x="899" y="378" width="5" height="4" fill="#000" />
<rect x="900" y="379" width="3" height="2" fill="#FF0000" />
<rect x="908" y="358" width="3" height="26" fill="#000" />
<rect x="907" y="360" width="5" height="19" fill="#000" />
<rect x="908" y="361" width="3" height="17" fill="#00FF00" />
<rect x="916" y="341" width="3" height="27" fill="#000" />
<rect x="915" y="357" width="5" height="3" fill="#000" />
<rect x="916" y="358" width="3" height="1" fill="#00FF00" />
<rect x="924" y="339" width="3" height="21" fill="#000" />
<rect x="923" y="340" width="5" height="18" fill="#000" />
<rect x="924" y="341" width="3" height="16" fill="#00FF00" />
<rect x="932" y="341" width="3" height="13" fill="#000" />
<rect x="931" y="342" width="5" height="10" fill="#000" />
<rect x="932" y="343" width="3" height="8" fill="#FF0000" />
<rect x="445" y="15" width="1" height="588" fill="#FF0000" />
<rect x="445" y="609" width="1" height="134" fill="#FF0000" />
<rect x="445" y="23" width="1" height="1" fill="#00FFFF" />
<rect x="445" y="66" width="1" height="1" fill="#00FFFF" />
<rect x="445" y="110" width="1" height="1" fill="#00FFFF" />
<rect x="445" y="154" width="1" height="1" fill="#00FFFF" />
<rect x="445" y="197" width="1" height="1" fill="#00FFFF" />
<rect x="445" y="241" width="1" height="1" fill="#00FFFF" />
<rect x="445" y="285" width="1" height="1" fill="#00FFFF" />
<rect x="445" y="328" width="1" height="1" fill="#00FFFF" />
<rect x="445" y="372" width="1" height="1" fill="#00FFFF" />
<rect x="445" y="415" width="1" height="1" fill="#00FFFF" />
<rect x="445" y="459" width="1" height="1" fill="#00FFFF" />
<rect x="445" y="503" width="1" height="1" fill="#00FFFF" />
<rect x="445" y="546" width="1" height="1" fill="#00FFFF" />
<rect x="445" y="590" width="1" height="1" fill="#00FFFF" />
<rect x="445" y="45" width="1" height="1" fill="#00FFFF" />
<rect x="445" y="88" width="1" height="1" fill="#00FFFF" />
<rect x="445" y="132" width="1" height="1" fill="#00FFFF" />
<rect x="445" y="175" width="1" height="1" fill="#00FFFF" />
<rect x="445" y="219" width="1" height="1" fill="#00FFFF" />
<rect x="445" y="263" width="1" height="1" fill="#00FFFF" />
<rect x="445" y="306" width="1" height="1" fill="#00FFFF" />
<rect x="445" y="350" width="1" height="1" fill="#00FFFF" />
<rect x="445" y="394" width="1" height="1" fill="#00FFFF" />
<rect x="445" y="437" width="1" height="1" fill="#00FFFF" />
<rect x="445" y="481" width="1" height="1" fill="#00FFFF" />
<rect x="445" y="525" width="1" height="1" fill="#00FFFF" />
<rect x="445" y="568" width="1" height="1" fill="#00FFFF" />
<rect x="445" y="612" width="1" height="1" fill="#00FFFF" />
<rect x="445" y="642" width="1" height="1" fill="#00FFFF" />
<rect x="445" y="676" width="1" height="1" fill="#00FFFF" />
<rect x="445" y="710" width="1" height="1" fill="#00FFFF" />
</g>
<text x="0.8" y="12.8" font-size="13.5" fill="#000" font-weight="bold" textLength="336.7" lengthAdjust="spacingAndGlyphs" >(QM #F - EMINY CRUDE OIL (LIGHT) FUTURES,D) Dyna</text>
<text x="0.6" y="28.3" font-size="13.5" fill="#000" font-weight="bold" textLength="107.2" lengthAdjust="spacingAndGlyphs" >WaveTrader III ©</text>
<g shape-rendering="crispEdges">
<rect x="336" y="1" width="280" height="14" fill="#C0C0C0" />
<rect x="336" y="14" width="280" height="1" fill="#808080" />
<rect x="615" y="1" width="1" height="14" fill="#808080" />
<rect x="554" y="2" width="60" height="12" fill="#FF0000" />
</g>
<text x="342" y="12" font-size="11" fill="#000" font-weight="bold" textLength="43.5" lengthAdjust="spacingAndGlyphs" >O: 58400</text>
<text x="397.4" y="12" font-size="11" fill="#000" font-weight="bold" textLength="42.1" lengthAdjust="spacingAndGlyphs" >H: 58550</text>
<text x="452" y="12" font-size="11" fill="#000" font-weight="bold" textLength="40" lengthAdjust="spacingAndGlyphs" >L: 57050</text>
<text x="504" y="12" font-size="11" fill="#000" font-weight="bold" textLength="42.6" lengthAdjust="spacingAndGlyphs" >C: 57275</text>
<text x="559" y="12" font-size="11" fill="#000" textLength="47.6" lengthAdjust="spacingAndGlyphs" >Net: -1355</text>
<rect x="1209" y="0" width="45" height="792" fill="#FFF" />
<g shape-rendering="crispEdges">
<rect x="1208" y="0" width="1" height="744" fill="#000" />
</g>
<text x="1209.5" y="28.0" font-size="13" fill="#000" textLength="34.5" lengthAdjust="spacingAndGlyphs" stroke="#000" stroke-width="0.4" >95000</text>
<text x="1209.5" y="71.0" font-size="13" fill="#000" textLength="34.5" lengthAdjust="spacingAndGlyphs" stroke="#000" stroke-width="0.4" >90000</text>
<text x="1209.5" y="115.0" font-size="13" fill="#000" textLength="34.5" lengthAdjust="spacingAndGlyphs" stroke="#000" stroke-width="0.4" >85000</text>
<text x="1209.5" y="159.0" font-size="13" fill="#000" textLength="34.5" lengthAdjust="spacingAndGlyphs" stroke="#000" stroke-width="0.4" >80000</text>
<text x="1209.5" y="202.0" font-size="13" fill="#000" textLength="34.5" lengthAdjust="spacingAndGlyphs" stroke="#000" stroke-width="0.4" >75000</text>
<text x="1209.5" y="246.0" font-size="13" fill="#000" textLength="34.5" lengthAdjust="spacingAndGlyphs" stroke="#000" stroke-width="0.4" >70000</text>
<text x="1209.5" y="290.0" font-size="13" fill="#000" textLength="34.5" lengthAdjust="spacingAndGlyphs" stroke="#000" stroke-width="0.4" >65000</text>
<text x="1209.5" y="333.0" font-size="13" fill="#000" textLength="34.5" lengthAdjust="spacingAndGlyphs" stroke="#000" stroke-width="0.4" >60000</text>
<text x="1209.5" y="377.0" font-size="13" fill="#000" textLength="34.5" lengthAdjust="spacingAndGlyphs" stroke="#000" stroke-width="0.4" >55000</text>
<text x="1209.5" y="464.0" font-size="13" fill="#000" textLength="34.5" lengthAdjust="spacingAndGlyphs" stroke="#000" stroke-width="0.4" >45000</text>
<text x="1209.5" y="508.0" font-size="13" fill="#000" textLength="34.5" lengthAdjust="spacingAndGlyphs" stroke="#000" stroke-width="0.4" >40000</text>
<text x="1209.5" y="551.0" font-size="13" fill="#000" textLength="34.5" lengthAdjust="spacingAndGlyphs" stroke="#000" stroke-width="0.4" >35000</text>
<text x="1209.5" y="595.0" font-size="13" fill="#000" textLength="34.5" lengthAdjust="spacingAndGlyphs" stroke="#000" stroke-width="0.4" >30000</text>
<g shape-rendering="crispEdges">
<rect x="1209" y="37" width="44" height="16" fill="#FF6820" />
</g>
<text x="1209.5" y="49.8" font-size="13" fill="#FF0000" textLength="34" lengthAdjust="spacingAndGlyphs" stroke="#FF0000" stroke-width="0.4" >92505</text>
<g shape-rendering="crispEdges">
<rect x="1209" y="149" width="35" height="16" fill="#0A4848" />
</g>
<text x="1209.5" y="161.8" font-size="13" fill="#FFF" textLength="34" lengthAdjust="spacingAndGlyphs" stroke="#FFF" stroke-width="0.4" >79594</text>
<g shape-rendering="crispEdges">
<rect x="1209" y="344" width="35" height="16" fill="#FF0000" />
</g>
<text x="1209.5" y="356.8" font-size="13" fill="#FFF" textLength="34" lengthAdjust="spacingAndGlyphs" stroke="#FFF" stroke-width="0.4" >57275</text>
<rect x="1209" y="396" width="35" height="9" fill="#CC99FF" />
<clipPath id="c51"><rect x="1209" y="396" width="35" height="8"/></clipPath>
<text x="1209.5" y="408.5" font-size="13" fill="#FFF" textLength="34" lengthAdjust="spacingAndGlyphs" stroke="#FFF" stroke-width="0.4" clip-path="url(#c51)">51276</text>
<g shape-rendering="crispEdges">
<rect x="1209" y="404" width="35" height="16" fill="#FF0000" />
</g>
<text x="1209.5" y="416.8" font-size="13" fill="#FFF" textLength="34" lengthAdjust="spacingAndGlyphs" stroke="#FFF" stroke-width="0.4" >50407</text>
<text x="1209.5" y="647.0" font-size="13" fill="#000" textLength="13.8" lengthAdjust="spacingAndGlyphs" stroke="#000" stroke-width="0.4" >75</text>
<text x="1209.5" y="681.0" font-size="13" fill="#000" textLength="13.8" lengthAdjust="spacingAndGlyphs" stroke="#000" stroke-width="0.4" >50</text>
<text x="1209.5" y="715.0" font-size="13" fill="#000" textLength="13.8" lengthAdjust="spacingAndGlyphs" stroke="#000" stroke-width="0.4" >25</text>
<text x="1209.5" y="741.0" font-size="13" fill="#000" textLength="6.9" lengthAdjust="spacingAndGlyphs" stroke="#000" stroke-width="0.4" >0</text>
<text x="1209.5" y="621" font-size="13" fill="#000" textLength="20.7" lengthAdjust="spacingAndGlyphs" >100</text>
<g shape-rendering="crispEdges">
<rect x="1209" y="622" width="25" height="12" fill="#0000FF" />
</g>
<text x="1209.5" y="633" font-size="13" fill="#FFF" textLength="24" lengthAdjust="spacingAndGlyphs" >87.6</text>
<g shape-rendering="crispEdges">
<rect x="1209" y="613" width="32" height="16" fill="#FF0000" />
</g>
<text x="1209.5" y="626" font-size="13" fill="#FFF" font-weight="bold" textLength="31" lengthAdjust="spacingAndGlyphs" >90.41</text>
<g shape-rendering="crispEdges">
<rect x="0" y="603" width="1208" height="1" fill="#FFFFFF" />
<rect x="0" y="604" width="1208" height="1" fill="#ECE9D8" />
<rect x="0" y="605" width="1208" height="1" fill="#8A8678" />
<rect x="0" y="606" width="1208" height="1" fill="#716F64" />
<rect x="0" y="636" width="1208" height="1" fill="#000" />
<rect x="0" y="717" width="1208" height="1" fill="#000" />
</g>
<text x="1.2" y="622.3" font-size="14" fill="#0000FF" font-weight="bold" textLength="104.5" lengthAdjust="spacingAndGlyphs" >Stochastic(8(3),5)</text>
<polyline points="5.5,735.6 13.5,731.8 21.5,709.2 29.5,701.6 37.5,684.0 45.5,670.3 53.5,673.7 61.5,697.5 69.5,731.8 77.5,739.3 85.5,739.3 93.5,732.3 101.5,729.3 109.5,720.0 117.5,695.0 125.5,670.3 133.5,660.3 141.5,679.0 149.5,710.0 157.5,727.3 165.5,722.9 173.5,711.7 181.5,701.6 189.5,721.4 197.5,723.4 205.5,711.7 213.5,691.6 221.5,662.3 229.5,638.0 237.5,616.2 245.5,617.6 253.5,636.8 261.5,665.6 269.5,692.4 277.5,712.5 285.5,722.6 293.5,731.3 301.5,727.3 309.5,707.5 317.5,683.2 325.5,645.5 333.5,633.0 341.5,620.0 349.5,623.8 357.5,638.8 365.5,667.3 373.5,694.1 381.5,709.2 389.5,722.6 397.5,727.9 405.5,733.5 413.5,725.1 421.5,715.9 429.5,711.2 437.5,720.1 445.5,731.3 453.5,738.5 461.5,720.1 469.5,715.0 477.5,712.2 485.5,698.8 493.5,668.1 501.5,648.0 509.5,644.7 517.5,637.2 525.5,619.6 533.5,612.9 541.5,638.0 549.5,660.6 557.5,660.6 565.5,644.7 573.5,628.4 581.5,633.8 589.5,636.3 597.5,661.4 605.5,661.4 613.5,662.3 621.5,641.3 629.5,637.5 637.5,633.0 645.5,626.8 653.5,626.3 661.5,617.4 669.5,614.2 677.5,616.2 685.5,617.9 693.5,629.6 701.5,661.4 709.5,692.4 717.5,722.6 725.5,691.6 733.5,671.5 741.5,656.4 749.5,674.8 757.5,694.1 765.5,684.0 773.5,676.2 781.5,676.2 789.5,697.5 797.5,698.6 805.5,686.4 813.5,689.4 821.5,693.3 829.5,704.2 837.5,694.1 845.5,669.8 853.5,659.8 861.5,656.9 869.5,661.1 877.5,651.4 885.5,633.5 893.5,621.6 901.5,621.2 909.5,617.4 917.5,623.8 925.5,619.6 933.5,626.3" fill="none" stroke="#0000FF" stroke-width="1.1" stroke-linejoin="round" />
<polyline points="5.5,730.6 13.5,731.3 21.5,729.3 29.5,723.4 37.5,711.7 45.5,698.3 53.5,687.9 61.5,685.4 69.5,691.6 77.5,703.3 85.5,716.7 93.5,727.6 101.5,734.3 109.5,731.8 117.5,722.6 125.5,709.2 133.5,695.4 141.5,684.9 149.5,683.5 157.5,689.0 165.5,700.0 173.5,710.0 181.5,714.2 189.5,716.2 197.5,715.5 205.5,713.2 213.5,710.9 221.5,702.8 229.5,685.7 237.5,664.0 245.5,645.5 253.5,634.6 261.5,636.3 269.5,646.4 277.5,664.0 285.5,685.7 293.5,704.2 301.5,716.7 309.5,720.6 317.5,713.9 325.5,698.3 333.5,677.4 341.5,656.4 349.5,641.3 357.5,632.5 365.5,636.8 373.5,648.0 381.5,664.8 389.5,685.7 397.5,702.5 405.5,717.1 413.5,724.3 421.5,725.6 429.5,723.4 437.5,721.2 445.5,720.1 453.5,723.4 461.5,724.3 469.5,725.6 477.5,723.4 485.5,717.6 493.5,703.3 501.5,688.2 509.5,674.8 517.5,658.1 525.5,643.0 533.5,633.0 541.5,630.5 549.5,633.5 557.5,638.0 565.5,643.0 573.5,646.9 581.5,645.2 589.5,641.3 597.5,640.5 605.5,644.3 613.5,651.4 621.5,652.6 629.5,652.2 637.5,647.2 645.5,640.5 653.5,633.0 661.5,627.9 669.5,623.2 677.5,620.1 685.5,618.4 693.5,619.2 701.5,628.4 709.5,644.7 717.5,665.6 725.5,680.7 733.5,690.3 741.5,688.2 749.5,684.4 757.5,679.0 765.5,676.2 773.5,677.4 781.5,680.7 789.5,684.9 797.5,686.2 805.5,687.4 813.5,689.1 821.5,692.9 829.5,694.4 837.5,693.3 845.5,689.9 853.5,683.2 861.5,676.5 869.5,668.1 877.5,659.8 885.5,652.6 893.5,644.7 901.5,638.0 909.5,628.4 917.5,623.8 925.5,621.6 933.5,621.6" fill="none" stroke="#FF0000" stroke-width="1.1" stroke-linejoin="round" />
<g shape-rendering="crispEdges">
<rect x="0" y="743" width="1208" height="17" fill="#ECE9D8" />
<rect x="0" y="743" width="1208" height="1" fill="#FFF" />
<rect x="33" y="744" width="1175" height="1" fill="#000" />
<rect x="1207" y="744" width="1" height="16" fill="#000" />
<rect x="1" y="744" width="14" height="15" fill="#C0C0C0" />
<rect x="1" y="744" width="14" height="1" fill="#FFF" />
<rect x="1" y="744" width="1" height="15" fill="#FFF" />
<rect x="1" y="758" width="14" height="1" fill="#808080" />
<rect x="14" y="744" width="1" height="15" fill="#808080" />
<rect x="17" y="744" width="14" height="15" fill="#C0C0C0" />
<rect x="17" y="744" width="14" height="1" fill="#FFF" />
<rect x="17" y="744" width="1" height="15" fill="#FFF" />
<rect x="17" y="758" width="14" height="1" fill="#808080" />
<rect x="30" y="744" width="1" height="15" fill="#808080" />
</g>
<polygon points="10,747 10,755 5,751" fill="#000"/>
<polygon points="22,747 22,755 27,751" fill="#000"/>
<polyline points="34.5,744.5 41,759.5 82.05000000000001,759.5" fill="none" stroke="#000" stroke-width="1"/>
<line x1="82.05000000000001" y1="759.5" x2="84.25000000000001" y2="754" stroke="#000" stroke-width="1"/>
<polyline points="81.55000000000001,744.5 88.05000000000001,759.5 137.95,759.5" fill="none" stroke="#000" stroke-width="1"/>
<line x1="137.95" y1="759.5" x2="140.14999999999998" y2="754" stroke="#000" stroke-width="1"/>
<polyline points="137.45,744.5 143.95,759.5 232.2,759.5" fill="none" stroke="#000" stroke-width="1"/>
<line x1="232.2" y1="759.5" x2="234.39999999999998" y2="754" stroke="#000" stroke-width="1"/>
<polyline points="231.7,744.5 238.2,759.5 336.1,759.5" fill="none" stroke="#000" stroke-width="1"/>
<line x1="336.1" y1="759.5" x2="338.3" y2="754" stroke="#000" stroke-width="1"/>
<polyline points="335.6,744.5 342.1,759.5 452.85,759.5" fill="none" stroke="#000" stroke-width="1"/>
<polyline points="557.45,759.5 636.65,759.5" fill="none" stroke="#000" stroke-width="1"/>
<line x1="636.65" y1="759.5" x2="638.85" y2="754" stroke="#000" stroke-width="1"/>
<polyline points="636.15,744.5 642.65,759.5 738.0,759.5" fill="none" stroke="#000" stroke-width="1"/>
<line x1="738.0" y1="759.5" x2="740.2" y2="754" stroke="#000" stroke-width="1"/>
<polyline points="737.5,744.5 744.0,759.5 848.25,759.5" fill="none" stroke="#000" stroke-width="1"/>
<line x1="848.25" y1="759.5" x2="850.45" y2="754" stroke="#000" stroke-width="1"/>
<polyline points="847.75,744.5 854.25,759.5 954.9,759.5" fill="none" stroke="#000" stroke-width="1"/>
<line x1="954.9" y1="759.5" x2="957.1" y2="754" stroke="#000" stroke-width="1"/>
<polyline points="954.4,744.5 960.9,759.5 1207,759.5" fill="none" stroke="#000" stroke-width="1"/>
<polygon points="452.35,742 458.85,759.5 551.45,759.5 557.95,742" fill="#FFF"/>
<polyline points="452.35,744 458.85,759.5 551.45,759.5 557.95,744" fill="none" stroke="#000" stroke-width="1"/>
<clipPath id="ct"><rect x="0" y="743" width="1207" height="17"/></clipPath>
<text x="44.5" y="756" font-size="11" fill="#222" textLength="35.2" lengthAdjust="spacingAndGlyphs" clip-path="url(#ct)">Volume</text>
<text x="90.4" y="756" font-size="11" fill="#222" textLength="45.2" lengthAdjust="spacingAndGlyphs" clip-path="url(#ct)">RSI(14,C)</text>
<text x="146.3" y="756" font-size="11" fill="#222" textLength="83.7" lengthAdjust="spacingAndGlyphs" clip-path="url(#ct)">MACD(12,26,9,C)</text>
<text x="240.4" y="756" font-size="11" fill="#222" textLength="93.5" lengthAdjust="spacingAndGlyphs" clip-path="url(#ct)">Stochastic(14(1),3)</text>
<text x="344.3" y="756" font-size="11" fill="#222" textLength="106.5" lengthAdjust="spacingAndGlyphs" clip-path="url(#ct)">RSI Color Line Bar(14)</text>
<text x="460.9" y="756" font-size="11" fill="#222" textLength="88.0" lengthAdjust="spacingAndGlyphs" clip-path="url(#ct)">Stochastic(8(3),5)</text>
<text x="560" y="756" font-size="11" fill="#222" textLength="74.3" lengthAdjust="spacingAndGlyphs" clip-path="url(#ct)">TRO_SM_IND2d</text>
<text x="645" y="756" font-size="11" fill="#222" textLength="90.5" lengthAdjust="spacingAndGlyphs" clip-path="url(#ct)">TRO_DIVERGENCE</text>
<text x="746.5" y="756" font-size="11" fill="#222" textLength="99.2" lengthAdjust="spacingAndGlyphs" clip-path="url(#ct)">TRO_DYNAMIC_CPR</text>
<text x="856.8" y="756" font-size="11" fill="#222" textLength="95.1" lengthAdjust="spacingAndGlyphs" clip-path="url(#ct)">TRO_SM_CONTROL</text>
<text x="963.9" y="756" font-size="11" fill="#222" textLength="254.1" lengthAdjust="spacingAndGlyphs" clip-path="url(#ct)">wskesig1\TRO_T_RSI trade signal.EFS(,,,,,,,false,true</text>
<g shape-rendering="crispEdges">
<rect x="0" y="760" width="1254" height="32" fill="#FFF" />
<rect x="21" y="760" width="1" height="2" fill="#000" />
<rect x="53" y="760" width="1" height="2" fill="#000" />
<rect x="93" y="760" width="1" height="2" fill="#000" />
<rect x="133" y="760" width="1" height="2" fill="#000" />
<rect x="173" y="760" width="1" height="2" fill="#000" />
<rect x="205" y="760" width="1" height="2" fill="#000" />
<rect x="237" y="760" width="1" height="2" fill="#000" />
<rect x="277" y="760" width="1" height="2" fill="#000" />
<rect x="317" y="760" width="1" height="2" fill="#000" />
<rect x="349" y="760" width="1" height="2" fill="#000" />
<rect x="389" y="760" width="1" height="2" fill="#000" />
<rect x="429" y="760" width="1" height="2" fill="#000" />
<rect x="469" y="760" width="1" height="2" fill="#000" />
<rect x="501" y="760" width="1" height="2" fill="#000" />
<rect x="541" y="760" width="1" height="2" fill="#000" />
<rect x="581" y="760" width="1" height="2" fill="#000" />
<rect x="621" y="760" width="1" height="2" fill="#000" />
<rect x="661" y="760" width="1" height="2" fill="#000" />
<rect x="701" y="760" width="1" height="2" fill="#000" />
<rect x="741" y="760" width="1" height="2" fill="#000" />
<rect x="773" y="760" width="1" height="2" fill="#000" />
<rect x="813" y="760" width="1" height="2" fill="#000" />
<rect x="853" y="760" width="1" height="2" fill="#000" />
<rect x="893" y="760" width="1" height="2" fill="#000" />
<rect x="933" y="760" width="1" height="2" fill="#000" />
<rect x="415" y="761" width="60" height="16" fill="#FF6820" />
<rect x="0" y="792" width="1254" height="1" fill="#000" />
<rect x="0" y="793" width="1254" height="13" fill="#E0E0E0" />
</g>
<text x="21.5" y="774" font-size="13" fill="#000" font-weight="bold" textLength="13.6" lengthAdjust="spacingAndGlyphs" >24</text>
<text x="53.5" y="774" font-size="13" fill="#000" font-weight="bold" textLength="6.6" lengthAdjust="spacingAndGlyphs" >1</text>
<text x="93.5" y="774" font-size="13" fill="#000" font-weight="bold" textLength="6.6" lengthAdjust="spacingAndGlyphs" >8</text>
<text x="133.5" y="774" font-size="13" fill="#000" font-weight="bold" textLength="13.6" lengthAdjust="spacingAndGlyphs" >15</text>
<text x="173.5" y="774" font-size="13" fill="#000" font-weight="bold" textLength="13.6" lengthAdjust="spacingAndGlyphs" >22</text>
<text x="205.5" y="774" font-size="13" fill="#000" font-weight="bold" textLength="13.6" lengthAdjust="spacingAndGlyphs" >29</text>
<text x="237.5" y="774" font-size="13" fill="#000" font-weight="bold" textLength="6.6" lengthAdjust="spacingAndGlyphs" >5</text>
<text x="277.5" y="774" font-size="13" fill="#000" font-weight="bold" textLength="13.6" lengthAdjust="spacingAndGlyphs" >12</text>
<text x="317.5" y="774" font-size="13" fill="#000" font-weight="bold" textLength="13.6" lengthAdjust="spacingAndGlyphs" >20</text>
<text x="349.5" y="774" font-size="13" fill="#000" font-weight="bold" textLength="13.6" lengthAdjust="spacingAndGlyphs" >26</text>
<text x="389.5" y="774" font-size="13" fill="#000" font-weight="bold" textLength="6.6" lengthAdjust="spacingAndGlyphs" >2</text>
<clipPath id="c17"><rect x="476.3" y="760" width="20" height="20"/></clipPath>
<text x="469.5" y="774" font-size="13" fill="#000" font-weight="bold" textLength="13.6" lengthAdjust="spacingAndGlyphs" clip-path="url(#c17)">17</text>
<text x="501.5" y="774" font-size="13" fill="#000" font-weight="bold" textLength="13.6" lengthAdjust="spacingAndGlyphs" >23</text>
<text x="541.5" y="774" font-size="13" fill="#000" font-weight="bold" textLength="6.6" lengthAdjust="spacingAndGlyphs" >2</text>
<text x="581.5" y="774" font-size="13" fill="#000" font-weight="bold" textLength="6.6" lengthAdjust="spacingAndGlyphs" >9</text>
<text x="621.5" y="774" font-size="13" fill="#000" font-weight="bold" textLength="13.6" lengthAdjust="spacingAndGlyphs" >16</text>
<text x="661.5" y="774" font-size="13" fill="#000" font-weight="bold" textLength="13.6" lengthAdjust="spacingAndGlyphs" >23</text>
<text x="701.5" y="774" font-size="13" fill="#000" font-weight="bold" textLength="13.6" lengthAdjust="spacingAndGlyphs" >30</text>
<text x="741.5" y="774" font-size="13" fill="#000" font-weight="bold" textLength="6.6" lengthAdjust="spacingAndGlyphs" >6</text>
<text x="773.5" y="774" font-size="13" fill="#000" font-weight="bold" textLength="13.6" lengthAdjust="spacingAndGlyphs" >13</text>
<text x="813.5" y="774" font-size="13" fill="#000" font-weight="bold" textLength="13.6" lengthAdjust="spacingAndGlyphs" >20</text>
<text x="853.5" y="774" font-size="13" fill="#000" font-weight="bold" textLength="13.6" lengthAdjust="spacingAndGlyphs" >27</text>
<text x="893.5" y="774" font-size="13" fill="#000" font-weight="bold" textLength="6.6" lengthAdjust="spacingAndGlyphs" >4</text>
<text x="933.5" y="774" font-size="13" fill="#000" font-weight="bold" textLength="13.6" lengthAdjust="spacingAndGlyphs" >11</text>
<text x="420.2" y="774" font-size="13" fill="#FF0000" textLength="49.5" lengthAdjust="spacingAndGlyphs" stroke="#FF0000" stroke-width="0.3" >02/11/09</text>
<text x="53.5" y="790" font-size="13" fill="#000" font-weight="bold" textLength="23.6" lengthAdjust="spacingAndGlyphs" >Dec</text>
<text x="229.5" y="790" font-size="13" fill="#000" font-weight="bold" textLength="27.5" lengthAdjust="spacingAndGlyphs" >2009</text>
<text x="389.5" y="790" font-size="13" fill="#000" font-weight="bold" textLength="23.6" lengthAdjust="spacingAndGlyphs" >Feb</text>
<text x="541.5" y="790" font-size="13" fill="#000" font-weight="bold" textLength="23.5" lengthAdjust="spacingAndGlyphs" >Mar</text>
<text x="717.5" y="790" font-size="13" fill="#000" font-weight="bold" textLength="22" lengthAdjust="spacingAndGlyphs" >Apr</text>
<text x="885.5" y="790" font-size="13" fill="#000" font-weight="bold" textLength="25.2" lengthAdjust="spacingAndGlyphs" >May</text>
<text x="1249" y="801.8" font-size="11" fill="#111" text-anchor="end" textLength="170" lengthAdjust="spacingAndGlyphs" >Published by eSignal (www.esignal.com)</text>
<g shape-rendering="crispEdges">
<rect x="0" y="0" width="1254" height="1" fill="#C0C0C0" />
<rect x="0" y="0" width="1" height="806" fill="#C0C0C0" />
<rect x="1253" y="0" width="1" height="806" fill="#C0C0C0" />
</g>
</svg>
</body></html>
